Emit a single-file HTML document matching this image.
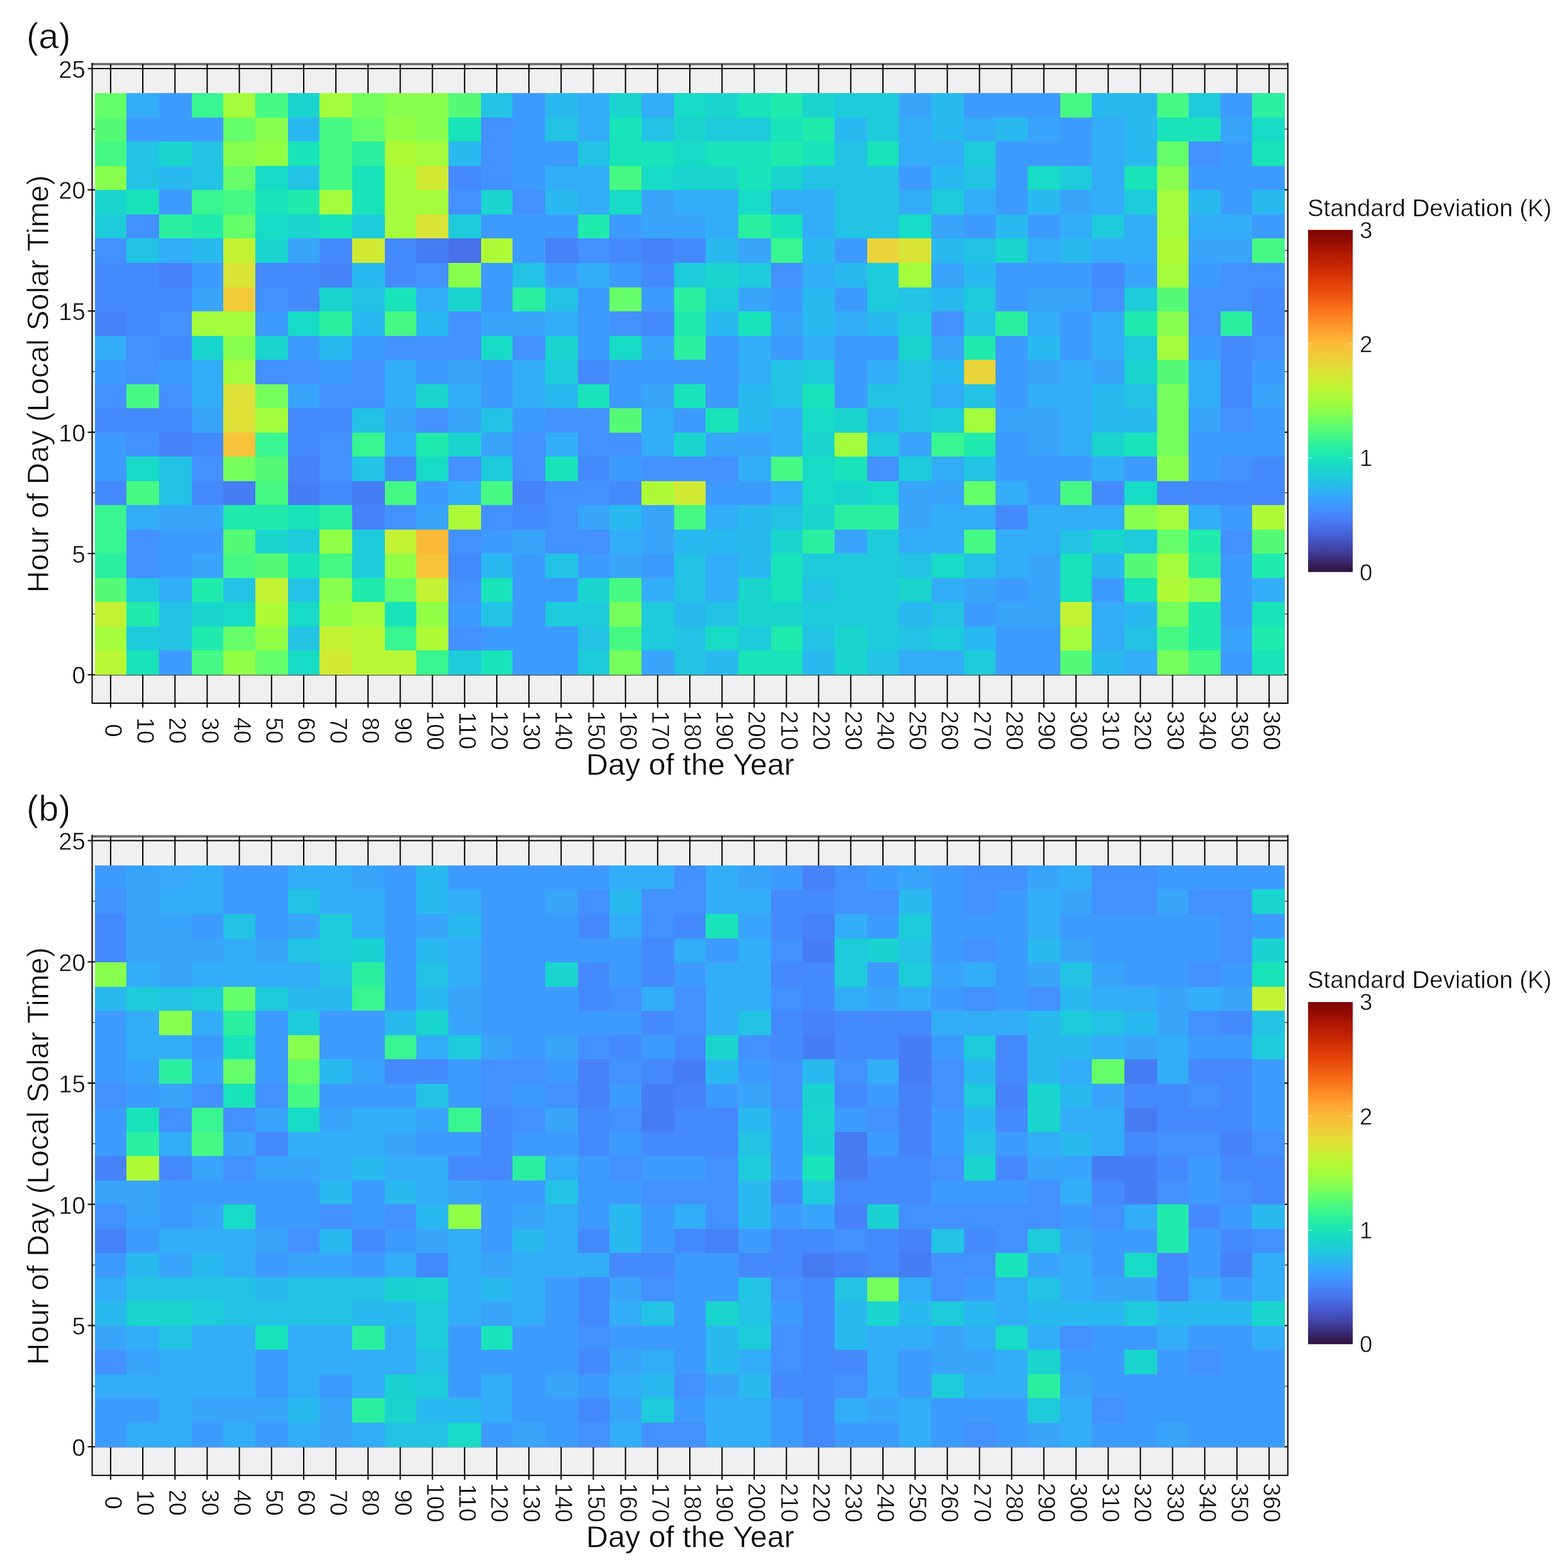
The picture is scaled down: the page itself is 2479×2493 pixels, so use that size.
<!DOCTYPE html>
<html lang="en"><head><meta charset="utf-8"><title>Standard Deviation heatmaps</title>
<style>
html,body{margin:0;padding:0;background:#fff}
svg{display:block;font-family:"Liberation Sans",sans-serif;fill:#000}
.t text{stroke:#fff;stroke-width:.6px}
.g{stroke:#fff;stroke-width:.8px}
.h{stroke:#fff;stroke-width:.5px}
.v{stroke:#fff;stroke-width:.8px}
</style></head><body>
<svg width="2479" height="2493" viewBox="0 0 2479 2493">
<defs><linearGradient id="tb" x1="0" y1="0" x2="0" y2="1"><stop offset="0.00%" stop-color="#7A0403"/><stop offset="3.33%" stop-color="#950D01"/><stop offset="6.67%" stop-color="#AF1801"/><stop offset="10.00%" stop-color="#C32503"/><stop offset="13.33%" stop-color="#D63506"/><stop offset="16.67%" stop-color="#E4450A"/><stop offset="20.00%" stop-color="#F05B12"/><stop offset="23.33%" stop-color="#F8721C"/><stop offset="26.67%" stop-color="#FD8D27"/><stop offset="30.00%" stop-color="#FEA431"/><stop offset="33.33%" stop-color="#FABA39"/><stop offset="36.67%" stop-color="#F1CB3A"/><stop offset="40.00%" stop-color="#E1DD37"/><stop offset="43.33%" stop-color="#D0EA34"/><stop offset="46.67%" stop-color="#B9F635"/><stop offset="50.00%" stop-color="#A4FC3C"/><stop offset="53.33%" stop-color="#88FF4E"/><stop offset="56.67%" stop-color="#65FD69"/><stop offset="60.00%" stop-color="#46F884"/><stop offset="63.33%" stop-color="#2AEFA1"/><stop offset="66.67%" stop-color="#1AE4B6"/><stop offset="70.00%" stop-color="#19D5CD"/><stop offset="73.33%" stop-color="#22C5E2"/><stop offset="76.67%" stop-color="#31AFF5"/><stop offset="80.00%" stop-color="#3E9BFE"/><stop offset="83.33%" stop-color="#4685FA"/><stop offset="86.67%" stop-color="#4771E9"/><stop offset="90.00%" stop-color="#4559CB"/><stop offset="93.33%" stop-color="#4143A7"/><stop offset="96.67%" stop-color="#392A73"/><stop offset="100.00%" stop-color="#30123B"/></linearGradient></defs>
<rect width="2479" height="2493" fill="#fff"/>
<g transform="translate(0,0)">
<rect x="146.5" y="101.9" width="1901.30" height="1016.10" fill="#F0F0F0"/>
<g stroke="#000" stroke-width="2">
<line x1="175.90" y1="101.9" x2="175.90" y2="1125.00"/>
<line x1="227.07" y1="101.9" x2="227.07" y2="1125.00"/>
<line x1="278.24" y1="101.9" x2="278.24" y2="1125.00"/>
<line x1="329.41" y1="101.9" x2="329.41" y2="1125.00"/>
<line x1="380.58" y1="101.9" x2="380.58" y2="1125.00"/>
<line x1="431.75" y1="101.9" x2="431.75" y2="1125.00"/>
<line x1="482.92" y1="101.9" x2="482.92" y2="1125.00"/>
<line x1="534.09" y1="101.9" x2="534.09" y2="1125.00"/>
<line x1="585.26" y1="101.9" x2="585.26" y2="1125.00"/>
<line x1="636.43" y1="101.9" x2="636.43" y2="1125.00"/>
<line x1="687.60" y1="101.9" x2="687.60" y2="1125.00"/>
<line x1="738.77" y1="101.9" x2="738.77" y2="1125.00"/>
<line x1="789.94" y1="101.9" x2="789.94" y2="1125.00"/>
<line x1="841.11" y1="101.9" x2="841.11" y2="1125.00"/>
<line x1="892.28" y1="101.9" x2="892.28" y2="1125.00"/>
<line x1="943.45" y1="101.9" x2="943.45" y2="1125.00"/>
<line x1="994.62" y1="101.9" x2="994.62" y2="1125.00"/>
<line x1="1045.79" y1="101.9" x2="1045.79" y2="1125.00"/>
<line x1="1096.96" y1="101.9" x2="1096.96" y2="1125.00"/>
<line x1="1148.13" y1="101.9" x2="1148.13" y2="1125.00"/>
<line x1="1199.30" y1="101.9" x2="1199.30" y2="1125.00"/>
<line x1="1250.47" y1="101.9" x2="1250.47" y2="1125.00"/>
<line x1="1301.64" y1="101.9" x2="1301.64" y2="1125.00"/>
<line x1="1352.81" y1="101.9" x2="1352.81" y2="1125.00"/>
<line x1="1403.98" y1="101.9" x2="1403.98" y2="1125.00"/>
<line x1="1455.15" y1="101.9" x2="1455.15" y2="1125.00"/>
<line x1="1506.32" y1="101.9" x2="1506.32" y2="1125.00"/>
<line x1="1557.49" y1="101.9" x2="1557.49" y2="1125.00"/>
<line x1="1608.66" y1="101.9" x2="1608.66" y2="1125.00"/>
<line x1="1659.83" y1="101.9" x2="1659.83" y2="1125.00"/>
<line x1="1711.00" y1="101.9" x2="1711.00" y2="1125.00"/>
<line x1="1762.17" y1="101.9" x2="1762.17" y2="1125.00"/>
<line x1="1813.34" y1="101.9" x2="1813.34" y2="1125.00"/>
<line x1="1864.51" y1="101.9" x2="1864.51" y2="1125.00"/>
<line x1="1915.68" y1="101.9" x2="1915.68" y2="1125.00"/>
<line x1="1966.85" y1="101.9" x2="1966.85" y2="1125.00"/>
<line x1="2018.02" y1="101.9" x2="2018.02" y2="1125.00"/>
<line x1="139.50" y1="1072.65" x2="2047.8" y2="1072.65"/>
<line x1="139.50" y1="879.90" x2="2047.8" y2="879.90"/>
<line x1="139.50" y1="687.15" x2="2047.8" y2="687.15"/>
<line x1="139.50" y1="494.40" x2="2047.8" y2="494.40"/>
<line x1="139.50" y1="301.65" x2="2047.8" y2="301.65"/>
<line x1="139.50" y1="108.90" x2="2047.8" y2="108.90"/>
</g>
<g stroke="#000" stroke-width="1">
<line x1="146.5" y1="976.27" x2="2047.8" y2="976.27"/>
<line x1="146.5" y1="783.52" x2="2047.8" y2="783.52"/>
<line x1="146.5" y1="590.77" x2="2047.8" y2="590.77"/>
<line x1="146.5" y1="398.02" x2="2047.8" y2="398.02"/>
<line x1="146.5" y1="205.28" x2="2047.8" y2="205.28"/>
</g>
<g shape-rendering="crispEdges">
<rect x="151.2" y="148.3" width="50.6" height="39.1" fill="#65FD69"/>
<rect x="201.2" y="148.3" width="52.3" height="39.1" fill="#33ADF7"/>
<rect x="252.9" y="148.3" width="52.4" height="39.1" fill="#3E9BFE"/>
<rect x="304.7" y="148.3" width="50.6" height="39.1" fill="#38F491"/>
<rect x="354.7" y="148.3" width="52.3" height="39.1" fill="#A4FC3C"/>
<rect x="406.4" y="148.3" width="52.4" height="39.1" fill="#46F884"/>
<rect x="458.2" y="148.3" width="50.6" height="39.1" fill="#19D5CD"/>
<rect x="508.2" y="148.3" width="52.3" height="39.1" fill="#A4FC3C"/>
<rect x="559.9" y="148.3" width="52.4" height="39.1" fill="#75FE5C"/>
<rect x="611.6" y="148.3" width="50.6" height="39.1" fill="#88FF4E"/>
<rect x="661.6" y="148.3" width="52.3" height="39.1" fill="#88FF4E"/>
<rect x="713.3" y="148.3" width="52.4" height="39.1" fill="#55FA76"/>
<rect x="765.1" y="148.3" width="50.6" height="39.1" fill="#23C3E4"/>
<rect x="815.1" y="148.3" width="52.3" height="39.1" fill="#3E9BFE"/>
<rect x="866.8" y="148.3" width="52.4" height="39.1" fill="#2AB9EE"/>
<rect x="918.6" y="148.3" width="50.6" height="39.1" fill="#33ADF7"/>
<rect x="968.6" y="148.3" width="52.3" height="39.1" fill="#19D5CD"/>
<rect x="1020.3" y="148.3" width="52.4" height="39.1" fill="#33ADF7"/>
<rect x="1072.1" y="148.3" width="50.6" height="39.1" fill="#18DBC5"/>
<rect x="1122.1" y="148.3" width="52.3" height="39.1" fill="#19D5CD"/>
<rect x="1173.8" y="148.3" width="52.4" height="39.1" fill="#19E3B9"/>
<rect x="1225.6" y="148.3" width="50.6" height="39.1" fill="#20EAAC"/>
<rect x="1275.6" y="148.3" width="52.3" height="39.1" fill="#19D5CD"/>
<rect x="1327.3" y="148.3" width="52.4" height="39.1" fill="#1ECBDA"/>
<rect x="1379.0" y="148.3" width="50.6" height="39.1" fill="#1ECBDA"/>
<rect x="1429.0" y="148.3" width="52.3" height="39.1" fill="#38A5FB"/>
<rect x="1480.7" y="148.3" width="52.4" height="39.1" fill="#2AB9EE"/>
<rect x="1532.5" y="148.3" width="50.6" height="39.1" fill="#3E9BFE"/>
<rect x="1582.5" y="148.3" width="52.3" height="39.1" fill="#3E9BFE"/>
<rect x="1634.2" y="148.3" width="52.4" height="39.1" fill="#3E9BFE"/>
<rect x="1686.0" y="148.3" width="50.6" height="39.1" fill="#46F884"/>
<rect x="1736.0" y="148.3" width="52.3" height="39.1" fill="#2AB9EE"/>
<rect x="1787.7" y="148.3" width="52.4" height="39.1" fill="#2AB9EE"/>
<rect x="1839.5" y="148.3" width="50.6" height="39.1" fill="#46F884"/>
<rect x="1889.5" y="148.3" width="52.3" height="39.1" fill="#1ECBDA"/>
<rect x="1941.2" y="148.3" width="50.4" height="39.1" fill="#3E9BFE"/>
<rect x="1991.0" y="148.3" width="52.0" height="39.1" fill="#2AEFA1"/>
<rect x="151.2" y="186.8" width="50.6" height="39.1" fill="#55FA76"/>
<rect x="201.2" y="186.8" width="52.3" height="39.1" fill="#3E9BFE"/>
<rect x="252.9" y="186.8" width="52.4" height="39.1" fill="#3E9BFE"/>
<rect x="304.7" y="186.8" width="50.6" height="39.1" fill="#3E9BFE"/>
<rect x="354.7" y="186.8" width="52.3" height="39.1" fill="#65FD69"/>
<rect x="406.4" y="186.8" width="52.4" height="39.1" fill="#88FF4E"/>
<rect x="458.2" y="186.8" width="50.6" height="39.1" fill="#2AB9EE"/>
<rect x="508.2" y="186.8" width="52.3" height="39.1" fill="#46F884"/>
<rect x="559.9" y="186.8" width="52.4" height="39.1" fill="#65FD69"/>
<rect x="611.6" y="186.8" width="50.6" height="39.1" fill="#92FF47"/>
<rect x="661.6" y="186.8" width="52.3" height="39.1" fill="#88FF4E"/>
<rect x="713.3" y="186.8" width="52.4" height="39.1" fill="#19E3B9"/>
<rect x="765.1" y="186.8" width="50.6" height="39.1" fill="#4391FE"/>
<rect x="815.1" y="186.8" width="52.3" height="39.1" fill="#3E9BFE"/>
<rect x="866.8" y="186.8" width="52.4" height="39.1" fill="#23C3E4"/>
<rect x="918.6" y="186.8" width="50.6" height="39.1" fill="#33ADF7"/>
<rect x="968.6" y="186.8" width="52.3" height="39.1" fill="#19E3B9"/>
<rect x="1020.3" y="186.8" width="52.4" height="39.1" fill="#23C3E4"/>
<rect x="1072.1" y="186.8" width="50.6" height="39.1" fill="#19D5CD"/>
<rect x="1122.1" y="186.8" width="52.3" height="39.1" fill="#1ECBDA"/>
<rect x="1173.8" y="186.8" width="52.4" height="39.1" fill="#1ECBDA"/>
<rect x="1225.6" y="186.8" width="50.6" height="39.1" fill="#19E3B9"/>
<rect x="1275.6" y="186.8" width="52.3" height="39.1" fill="#20EAAC"/>
<rect x="1327.3" y="186.8" width="52.4" height="39.1" fill="#2AB9EE"/>
<rect x="1379.0" y="186.8" width="50.6" height="39.1" fill="#1ECBDA"/>
<rect x="1429.0" y="186.8" width="52.3" height="39.1" fill="#33ADF7"/>
<rect x="1480.7" y="186.8" width="52.4" height="39.1" fill="#2AB9EE"/>
<rect x="1532.5" y="186.8" width="50.6" height="39.1" fill="#33ADF7"/>
<rect x="1582.5" y="186.8" width="52.3" height="39.1" fill="#2AB9EE"/>
<rect x="1634.2" y="186.8" width="52.4" height="39.1" fill="#38A5FB"/>
<rect x="1686.0" y="186.8" width="50.6" height="39.1" fill="#3E9BFE"/>
<rect x="1736.0" y="186.8" width="52.3" height="39.1" fill="#33ADF7"/>
<rect x="1787.7" y="186.8" width="52.4" height="39.1" fill="#2AB9EE"/>
<rect x="1839.5" y="186.8" width="50.6" height="39.1" fill="#19E3B9"/>
<rect x="1889.5" y="186.8" width="52.3" height="39.1" fill="#19E3B9"/>
<rect x="1941.2" y="186.8" width="50.4" height="39.1" fill="#38A5FB"/>
<rect x="1991.0" y="186.8" width="52.0" height="39.1" fill="#18DBC5"/>
<rect x="151.2" y="225.3" width="50.6" height="39.1" fill="#46F884"/>
<rect x="201.2" y="225.3" width="52.3" height="39.1" fill="#23C3E4"/>
<rect x="252.9" y="225.3" width="52.4" height="39.1" fill="#19D5CD"/>
<rect x="304.7" y="225.3" width="50.6" height="39.1" fill="#23C3E4"/>
<rect x="354.7" y="225.3" width="52.3" height="39.1" fill="#88FF4E"/>
<rect x="406.4" y="225.3" width="52.4" height="39.1" fill="#92FF47"/>
<rect x="458.2" y="225.3" width="50.6" height="39.1" fill="#19E3B9"/>
<rect x="508.2" y="225.3" width="52.3" height="39.1" fill="#46F884"/>
<rect x="559.9" y="225.3" width="52.4" height="39.1" fill="#2AEFA1"/>
<rect x="611.6" y="225.3" width="50.6" height="39.1" fill="#AFFA37"/>
<rect x="661.6" y="225.3" width="52.3" height="39.1" fill="#A4FC3C"/>
<rect x="713.3" y="225.3" width="52.4" height="39.1" fill="#2AB9EE"/>
<rect x="765.1" y="225.3" width="50.6" height="39.1" fill="#4391FE"/>
<rect x="815.1" y="225.3" width="52.3" height="39.1" fill="#3E9BFE"/>
<rect x="866.8" y="225.3" width="52.4" height="39.1" fill="#3E9BFE"/>
<rect x="918.6" y="225.3" width="50.6" height="39.1" fill="#23C3E4"/>
<rect x="968.6" y="225.3" width="52.3" height="39.1" fill="#19E3B9"/>
<rect x="1020.3" y="225.3" width="52.4" height="39.1" fill="#19E3B9"/>
<rect x="1072.1" y="225.3" width="50.6" height="39.1" fill="#18DBC5"/>
<rect x="1122.1" y="225.3" width="52.3" height="39.1" fill="#19E3B9"/>
<rect x="1173.8" y="225.3" width="52.4" height="39.1" fill="#19E3B9"/>
<rect x="1225.6" y="225.3" width="50.6" height="39.1" fill="#20EAAC"/>
<rect x="1275.6" y="225.3" width="52.3" height="39.1" fill="#19E3B9"/>
<rect x="1327.3" y="225.3" width="52.4" height="39.1" fill="#23C3E4"/>
<rect x="1379.0" y="225.3" width="50.6" height="39.1" fill="#19E3B9"/>
<rect x="1429.0" y="225.3" width="52.3" height="39.1" fill="#33ADF7"/>
<rect x="1480.7" y="225.3" width="52.4" height="39.1" fill="#33ADF7"/>
<rect x="1532.5" y="225.3" width="50.6" height="39.1" fill="#1ECBDA"/>
<rect x="1582.5" y="225.3" width="52.3" height="39.1" fill="#3E9BFE"/>
<rect x="1634.2" y="225.3" width="52.4" height="39.1" fill="#3E9BFE"/>
<rect x="1686.0" y="225.3" width="50.6" height="39.1" fill="#3E9BFE"/>
<rect x="1736.0" y="225.3" width="52.3" height="39.1" fill="#33ADF7"/>
<rect x="1787.7" y="225.3" width="52.4" height="39.1" fill="#2AB9EE"/>
<rect x="1839.5" y="225.3" width="50.6" height="39.1" fill="#65FD69"/>
<rect x="1889.5" y="225.3" width="52.3" height="39.1" fill="#4391FE"/>
<rect x="1941.2" y="225.3" width="50.4" height="39.1" fill="#3E9BFE"/>
<rect x="1991.0" y="225.3" width="52.0" height="39.1" fill="#19E3B9"/>
<rect x="151.2" y="263.9" width="50.6" height="39.1" fill="#88FF4E"/>
<rect x="201.2" y="263.9" width="52.3" height="39.1" fill="#23C3E4"/>
<rect x="252.9" y="263.9" width="52.4" height="39.1" fill="#2AB9EE"/>
<rect x="304.7" y="263.9" width="50.6" height="39.1" fill="#23C3E4"/>
<rect x="354.7" y="263.9" width="52.3" height="39.1" fill="#65FD69"/>
<rect x="406.4" y="263.9" width="52.4" height="39.1" fill="#18DBC5"/>
<rect x="458.2" y="263.9" width="50.6" height="39.1" fill="#23C3E4"/>
<rect x="508.2" y="263.9" width="52.3" height="39.1" fill="#46F884"/>
<rect x="559.9" y="263.9" width="52.4" height="39.1" fill="#19E3B9"/>
<rect x="611.6" y="263.9" width="50.6" height="39.1" fill="#A4FC3C"/>
<rect x="661.6" y="263.9" width="52.3" height="39.1" fill="#D0EA34"/>
<rect x="713.3" y="263.9" width="52.4" height="39.1" fill="#458AFC"/>
<rect x="765.1" y="263.9" width="50.6" height="39.1" fill="#4391FE"/>
<rect x="815.1" y="263.9" width="52.3" height="39.1" fill="#3E9BFE"/>
<rect x="866.8" y="263.9" width="52.4" height="39.1" fill="#33ADF7"/>
<rect x="918.6" y="263.9" width="50.6" height="39.1" fill="#33ADF7"/>
<rect x="968.6" y="263.9" width="52.3" height="39.1" fill="#46F884"/>
<rect x="1020.3" y="263.9" width="52.4" height="39.1" fill="#18DBC5"/>
<rect x="1072.1" y="263.9" width="50.6" height="39.1" fill="#19D5CD"/>
<rect x="1122.1" y="263.9" width="52.3" height="39.1" fill="#19D5CD"/>
<rect x="1173.8" y="263.9" width="52.4" height="39.1" fill="#19E3B9"/>
<rect x="1225.6" y="263.9" width="50.6" height="39.1" fill="#19D5CD"/>
<rect x="1275.6" y="263.9" width="52.3" height="39.1" fill="#23C3E4"/>
<rect x="1327.3" y="263.9" width="52.4" height="39.1" fill="#23C3E4"/>
<rect x="1379.0" y="263.9" width="50.6" height="39.1" fill="#23C3E4"/>
<rect x="1429.0" y="263.9" width="52.3" height="39.1" fill="#3E9BFE"/>
<rect x="1480.7" y="263.9" width="52.4" height="39.1" fill="#2AB9EE"/>
<rect x="1532.5" y="263.9" width="50.6" height="39.1" fill="#23C3E4"/>
<rect x="1582.5" y="263.9" width="52.3" height="39.1" fill="#3E9BFE"/>
<rect x="1634.2" y="263.9" width="52.4" height="39.1" fill="#18DBC5"/>
<rect x="1686.0" y="263.9" width="50.6" height="39.1" fill="#1ECBDA"/>
<rect x="1736.0" y="263.9" width="52.3" height="39.1" fill="#33ADF7"/>
<rect x="1787.7" y="263.9" width="52.4" height="39.1" fill="#19E3B9"/>
<rect x="1839.5" y="263.9" width="50.6" height="39.1" fill="#88FF4E"/>
<rect x="1889.5" y="263.9" width="52.3" height="39.1" fill="#3E9BFE"/>
<rect x="1941.2" y="263.9" width="50.4" height="39.1" fill="#3E9BFE"/>
<rect x="1991.0" y="263.9" width="52.0" height="39.1" fill="#3E9BFE"/>
<rect x="151.2" y="302.4" width="50.6" height="39.1" fill="#19D5CD"/>
<rect x="201.2" y="302.4" width="52.3" height="39.1" fill="#19E3B9"/>
<rect x="252.9" y="302.4" width="52.4" height="39.1" fill="#3E9BFE"/>
<rect x="304.7" y="302.4" width="50.6" height="39.1" fill="#38F491"/>
<rect x="354.7" y="302.4" width="52.3" height="39.1" fill="#46F884"/>
<rect x="406.4" y="302.4" width="52.4" height="39.1" fill="#19E3B9"/>
<rect x="458.2" y="302.4" width="50.6" height="39.1" fill="#20EAAC"/>
<rect x="508.2" y="302.4" width="52.3" height="39.1" fill="#A4FC3C"/>
<rect x="559.9" y="302.4" width="52.4" height="39.1" fill="#19E3B9"/>
<rect x="611.6" y="302.4" width="50.6" height="39.1" fill="#A4FC3C"/>
<rect x="661.6" y="302.4" width="52.3" height="39.1" fill="#A4FC3C"/>
<rect x="713.3" y="302.4" width="52.4" height="39.1" fill="#4391FE"/>
<rect x="765.1" y="302.4" width="50.6" height="39.1" fill="#19D5CD"/>
<rect x="815.1" y="302.4" width="52.3" height="39.1" fill="#4391FE"/>
<rect x="866.8" y="302.4" width="52.4" height="39.1" fill="#2AB9EE"/>
<rect x="918.6" y="302.4" width="50.6" height="39.1" fill="#33ADF7"/>
<rect x="968.6" y="302.4" width="52.3" height="39.1" fill="#18DBC5"/>
<rect x="1020.3" y="302.4" width="52.4" height="39.1" fill="#38A5FB"/>
<rect x="1072.1" y="302.4" width="50.6" height="39.1" fill="#33ADF7"/>
<rect x="1122.1" y="302.4" width="52.3" height="39.1" fill="#33ADF7"/>
<rect x="1173.8" y="302.4" width="52.4" height="39.1" fill="#18DBC5"/>
<rect x="1225.6" y="302.4" width="50.6" height="39.1" fill="#33ADF7"/>
<rect x="1275.6" y="302.4" width="52.3" height="39.1" fill="#33ADF7"/>
<rect x="1327.3" y="302.4" width="52.4" height="39.1" fill="#23C3E4"/>
<rect x="1379.0" y="302.4" width="50.6" height="39.1" fill="#23C3E4"/>
<rect x="1429.0" y="302.4" width="52.3" height="39.1" fill="#33ADF7"/>
<rect x="1480.7" y="302.4" width="52.4" height="39.1" fill="#1ECBDA"/>
<rect x="1532.5" y="302.4" width="50.6" height="39.1" fill="#33ADF7"/>
<rect x="1582.5" y="302.4" width="52.3" height="39.1" fill="#3E9BFE"/>
<rect x="1634.2" y="302.4" width="52.4" height="39.1" fill="#2AB9EE"/>
<rect x="1686.0" y="302.4" width="50.6" height="39.1" fill="#38A5FB"/>
<rect x="1736.0" y="302.4" width="52.3" height="39.1" fill="#33ADF7"/>
<rect x="1787.7" y="302.4" width="52.4" height="39.1" fill="#1ECBDA"/>
<rect x="1839.5" y="302.4" width="50.6" height="39.1" fill="#A4FC3C"/>
<rect x="1889.5" y="302.4" width="52.3" height="39.1" fill="#2AB9EE"/>
<rect x="1941.2" y="302.4" width="50.4" height="39.1" fill="#3E9BFE"/>
<rect x="1991.0" y="302.4" width="52.0" height="39.1" fill="#2AB9EE"/>
<rect x="151.2" y="340.9" width="50.6" height="39.1" fill="#1ECBDA"/>
<rect x="201.2" y="340.9" width="52.3" height="39.1" fill="#4391FE"/>
<rect x="252.9" y="340.9" width="52.4" height="39.1" fill="#2AEFA1"/>
<rect x="304.7" y="340.9" width="50.6" height="39.1" fill="#20EAAC"/>
<rect x="354.7" y="340.9" width="52.3" height="39.1" fill="#65FD69"/>
<rect x="406.4" y="340.9" width="52.4" height="39.1" fill="#18DBC5"/>
<rect x="458.2" y="340.9" width="50.6" height="39.1" fill="#19D5CD"/>
<rect x="508.2" y="340.9" width="52.3" height="39.1" fill="#19E3B9"/>
<rect x="559.9" y="340.9" width="52.4" height="39.1" fill="#1ECBDA"/>
<rect x="611.6" y="340.9" width="50.6" height="39.1" fill="#A4FC3C"/>
<rect x="661.6" y="340.9" width="52.3" height="39.1" fill="#D9E436"/>
<rect x="713.3" y="340.9" width="52.4" height="39.1" fill="#1ECBDA"/>
<rect x="765.1" y="340.9" width="50.6" height="39.1" fill="#3E9BFE"/>
<rect x="815.1" y="340.9" width="52.3" height="39.1" fill="#3E9BFE"/>
<rect x="866.8" y="340.9" width="52.4" height="39.1" fill="#3E9BFE"/>
<rect x="918.6" y="340.9" width="50.6" height="39.1" fill="#20EAAC"/>
<rect x="968.6" y="340.9" width="52.3" height="39.1" fill="#3E9BFE"/>
<rect x="1020.3" y="340.9" width="52.4" height="39.1" fill="#38A5FB"/>
<rect x="1072.1" y="340.9" width="50.6" height="39.1" fill="#38A5FB"/>
<rect x="1122.1" y="340.9" width="52.3" height="39.1" fill="#33ADF7"/>
<rect x="1173.8" y="340.9" width="52.4" height="39.1" fill="#2AEFA1"/>
<rect x="1225.6" y="340.9" width="50.6" height="39.1" fill="#19E3B9"/>
<rect x="1275.6" y="340.9" width="52.3" height="39.1" fill="#33ADF7"/>
<rect x="1327.3" y="340.9" width="52.4" height="39.1" fill="#23C3E4"/>
<rect x="1379.0" y="340.9" width="50.6" height="39.1" fill="#23C3E4"/>
<rect x="1429.0" y="340.9" width="52.3" height="39.1" fill="#18DBC5"/>
<rect x="1480.7" y="340.9" width="52.4" height="39.1" fill="#38A5FB"/>
<rect x="1532.5" y="340.9" width="50.6" height="39.1" fill="#3E9BFE"/>
<rect x="1582.5" y="340.9" width="52.3" height="39.1" fill="#2AB9EE"/>
<rect x="1634.2" y="340.9" width="52.4" height="39.1" fill="#3E9BFE"/>
<rect x="1686.0" y="340.9" width="50.6" height="39.1" fill="#33ADF7"/>
<rect x="1736.0" y="340.9" width="52.3" height="39.1" fill="#1ECBDA"/>
<rect x="1787.7" y="340.9" width="52.4" height="39.1" fill="#33ADF7"/>
<rect x="1839.5" y="340.9" width="50.6" height="39.1" fill="#A4FC3C"/>
<rect x="1889.5" y="340.9" width="52.3" height="39.1" fill="#33ADF7"/>
<rect x="1941.2" y="340.9" width="50.4" height="39.1" fill="#33ADF7"/>
<rect x="1991.0" y="340.9" width="52.0" height="39.1" fill="#3E9BFE"/>
<rect x="151.2" y="379.4" width="50.6" height="39.1" fill="#4391FE"/>
<rect x="201.2" y="379.4" width="52.3" height="39.1" fill="#23C3E4"/>
<rect x="252.9" y="379.4" width="52.4" height="39.1" fill="#33ADF7"/>
<rect x="304.7" y="379.4" width="50.6" height="39.1" fill="#2AB9EE"/>
<rect x="354.7" y="379.4" width="52.3" height="39.1" fill="#C3F134"/>
<rect x="406.4" y="379.4" width="52.4" height="39.1" fill="#19D5CD"/>
<rect x="458.2" y="379.4" width="50.6" height="39.1" fill="#38A5FB"/>
<rect x="508.2" y="379.4" width="52.3" height="39.1" fill="#458AFC"/>
<rect x="559.9" y="379.4" width="52.4" height="39.1" fill="#D0EA34"/>
<rect x="611.6" y="379.4" width="50.6" height="39.1" fill="#458AFC"/>
<rect x="661.6" y="379.4" width="52.3" height="39.1" fill="#467DF4"/>
<rect x="713.3" y="379.4" width="52.4" height="39.1" fill="#4771E9"/>
<rect x="765.1" y="379.4" width="50.6" height="39.1" fill="#AFFA37"/>
<rect x="815.1" y="379.4" width="52.3" height="39.1" fill="#3E9BFE"/>
<rect x="866.8" y="379.4" width="52.4" height="39.1" fill="#4682F8"/>
<rect x="918.6" y="379.4" width="50.6" height="39.1" fill="#4391FE"/>
<rect x="968.6" y="379.4" width="52.3" height="39.1" fill="#458AFC"/>
<rect x="1020.3" y="379.4" width="52.4" height="39.1" fill="#4682F8"/>
<rect x="1072.1" y="379.4" width="50.6" height="39.1" fill="#458AFC"/>
<rect x="1122.1" y="379.4" width="52.3" height="39.1" fill="#2AB9EE"/>
<rect x="1173.8" y="379.4" width="52.4" height="39.1" fill="#38A5FB"/>
<rect x="1225.6" y="379.4" width="50.6" height="39.1" fill="#38F491"/>
<rect x="1275.6" y="379.4" width="52.3" height="39.1" fill="#2AB9EE"/>
<rect x="1327.3" y="379.4" width="52.4" height="39.1" fill="#3E9BFE"/>
<rect x="1379.0" y="379.4" width="50.6" height="39.1" fill="#E9D539"/>
<rect x="1429.0" y="379.4" width="52.3" height="39.1" fill="#D9E436"/>
<rect x="1480.7" y="379.4" width="52.4" height="39.1" fill="#2AB9EE"/>
<rect x="1532.5" y="379.4" width="50.6" height="39.1" fill="#23C3E4"/>
<rect x="1582.5" y="379.4" width="52.3" height="39.1" fill="#19D5CD"/>
<rect x="1634.2" y="379.4" width="52.4" height="39.1" fill="#33ADF7"/>
<rect x="1686.0" y="379.4" width="50.6" height="39.1" fill="#2AB9EE"/>
<rect x="1736.0" y="379.4" width="52.3" height="39.1" fill="#33ADF7"/>
<rect x="1787.7" y="379.4" width="52.4" height="39.1" fill="#33ADF7"/>
<rect x="1839.5" y="379.4" width="50.6" height="39.1" fill="#AFFA37"/>
<rect x="1889.5" y="379.4" width="52.3" height="39.1" fill="#38A5FB"/>
<rect x="1941.2" y="379.4" width="50.4" height="39.1" fill="#38A5FB"/>
<rect x="1991.0" y="379.4" width="52.0" height="39.1" fill="#46F884"/>
<rect x="151.2" y="417.9" width="50.6" height="39.1" fill="#458AFC"/>
<rect x="201.2" y="417.9" width="52.3" height="39.1" fill="#458AFC"/>
<rect x="252.9" y="417.9" width="52.4" height="39.1" fill="#4682F8"/>
<rect x="304.7" y="417.9" width="50.6" height="39.1" fill="#3E9BFE"/>
<rect x="354.7" y="417.9" width="52.3" height="39.1" fill="#D9E436"/>
<rect x="406.4" y="417.9" width="52.4" height="39.1" fill="#458AFC"/>
<rect x="458.2" y="417.9" width="50.6" height="39.1" fill="#458AFC"/>
<rect x="508.2" y="417.9" width="52.3" height="39.1" fill="#4682F8"/>
<rect x="559.9" y="417.9" width="52.4" height="39.1" fill="#2AB9EE"/>
<rect x="611.6" y="417.9" width="50.6" height="39.1" fill="#458AFC"/>
<rect x="661.6" y="417.9" width="52.3" height="39.1" fill="#4391FE"/>
<rect x="713.3" y="417.9" width="52.4" height="39.1" fill="#88FF4E"/>
<rect x="765.1" y="417.9" width="50.6" height="39.1" fill="#3E9BFE"/>
<rect x="815.1" y="417.9" width="52.3" height="39.1" fill="#23C3E4"/>
<rect x="866.8" y="417.9" width="52.4" height="39.1" fill="#3E9BFE"/>
<rect x="918.6" y="417.9" width="50.6" height="39.1" fill="#33ADF7"/>
<rect x="968.6" y="417.9" width="52.3" height="39.1" fill="#3E9BFE"/>
<rect x="1020.3" y="417.9" width="52.4" height="39.1" fill="#458AFC"/>
<rect x="1072.1" y="417.9" width="50.6" height="39.1" fill="#1ECBDA"/>
<rect x="1122.1" y="417.9" width="52.3" height="39.1" fill="#19D5CD"/>
<rect x="1173.8" y="417.9" width="52.4" height="39.1" fill="#1ECBDA"/>
<rect x="1225.6" y="417.9" width="50.6" height="39.1" fill="#4391FE"/>
<rect x="1275.6" y="417.9" width="52.3" height="39.1" fill="#33ADF7"/>
<rect x="1327.3" y="417.9" width="52.4" height="39.1" fill="#2AB9EE"/>
<rect x="1379.0" y="417.9" width="50.6" height="39.1" fill="#1ECBDA"/>
<rect x="1429.0" y="417.9" width="52.3" height="39.1" fill="#A4FC3C"/>
<rect x="1480.7" y="417.9" width="52.4" height="39.1" fill="#38A5FB"/>
<rect x="1532.5" y="417.9" width="50.6" height="39.1" fill="#2AB9EE"/>
<rect x="1582.5" y="417.9" width="52.3" height="39.1" fill="#3E9BFE"/>
<rect x="1634.2" y="417.9" width="52.4" height="39.1" fill="#3E9BFE"/>
<rect x="1686.0" y="417.9" width="50.6" height="39.1" fill="#3E9BFE"/>
<rect x="1736.0" y="417.9" width="52.3" height="39.1" fill="#458AFC"/>
<rect x="1787.7" y="417.9" width="52.4" height="39.1" fill="#38A5FB"/>
<rect x="1839.5" y="417.9" width="50.6" height="39.1" fill="#A4FC3C"/>
<rect x="1889.5" y="417.9" width="52.3" height="39.1" fill="#3E9BFE"/>
<rect x="1941.2" y="417.9" width="50.4" height="39.1" fill="#4391FE"/>
<rect x="1991.0" y="417.9" width="52.0" height="39.1" fill="#4391FE"/>
<rect x="151.2" y="456.5" width="50.6" height="39.1" fill="#458AFC"/>
<rect x="201.2" y="456.5" width="52.3" height="39.1" fill="#458AFC"/>
<rect x="252.9" y="456.5" width="52.4" height="39.1" fill="#458AFC"/>
<rect x="304.7" y="456.5" width="50.6" height="39.1" fill="#38A5FB"/>
<rect x="354.7" y="456.5" width="52.3" height="39.1" fill="#F1CB3A"/>
<rect x="406.4" y="456.5" width="52.4" height="39.1" fill="#4391FE"/>
<rect x="458.2" y="456.5" width="50.6" height="39.1" fill="#458AFC"/>
<rect x="508.2" y="456.5" width="52.3" height="39.1" fill="#19D5CD"/>
<rect x="559.9" y="456.5" width="52.4" height="39.1" fill="#23C3E4"/>
<rect x="611.6" y="456.5" width="50.6" height="39.1" fill="#19E3B9"/>
<rect x="661.6" y="456.5" width="52.3" height="39.1" fill="#33ADF7"/>
<rect x="713.3" y="456.5" width="52.4" height="39.1" fill="#19D5CD"/>
<rect x="765.1" y="456.5" width="50.6" height="39.1" fill="#3E9BFE"/>
<rect x="815.1" y="456.5" width="52.3" height="39.1" fill="#2AEFA1"/>
<rect x="866.8" y="456.5" width="52.4" height="39.1" fill="#23C3E4"/>
<rect x="918.6" y="456.5" width="50.6" height="39.1" fill="#3E9BFE"/>
<rect x="968.6" y="456.5" width="52.3" height="39.1" fill="#65FD69"/>
<rect x="1020.3" y="456.5" width="52.4" height="39.1" fill="#3E9BFE"/>
<rect x="1072.1" y="456.5" width="50.6" height="39.1" fill="#2AEFA1"/>
<rect x="1122.1" y="456.5" width="52.3" height="39.1" fill="#1ECBDA"/>
<rect x="1173.8" y="456.5" width="52.4" height="39.1" fill="#38A5FB"/>
<rect x="1225.6" y="456.5" width="50.6" height="39.1" fill="#3E9BFE"/>
<rect x="1275.6" y="456.5" width="52.3" height="39.1" fill="#2AB9EE"/>
<rect x="1327.3" y="456.5" width="52.4" height="39.1" fill="#3E9BFE"/>
<rect x="1379.0" y="456.5" width="50.6" height="39.1" fill="#1ECBDA"/>
<rect x="1429.0" y="456.5" width="52.3" height="39.1" fill="#23C3E4"/>
<rect x="1480.7" y="456.5" width="52.4" height="39.1" fill="#2AB9EE"/>
<rect x="1532.5" y="456.5" width="50.6" height="39.1" fill="#1ECBDA"/>
<rect x="1582.5" y="456.5" width="52.3" height="39.1" fill="#3E9BFE"/>
<rect x="1634.2" y="456.5" width="52.4" height="39.1" fill="#38A5FB"/>
<rect x="1686.0" y="456.5" width="50.6" height="39.1" fill="#38A5FB"/>
<rect x="1736.0" y="456.5" width="52.3" height="39.1" fill="#4391FE"/>
<rect x="1787.7" y="456.5" width="52.4" height="39.1" fill="#1ECBDA"/>
<rect x="1839.5" y="456.5" width="50.6" height="39.1" fill="#55FA76"/>
<rect x="1889.5" y="456.5" width="52.3" height="39.1" fill="#4391FE"/>
<rect x="1941.2" y="456.5" width="50.4" height="39.1" fill="#4391FE"/>
<rect x="1991.0" y="456.5" width="52.0" height="39.1" fill="#458AFC"/>
<rect x="151.2" y="495.0" width="50.6" height="39.1" fill="#4682F8"/>
<rect x="201.2" y="495.0" width="52.3" height="39.1" fill="#458AFC"/>
<rect x="252.9" y="495.0" width="52.4" height="39.1" fill="#4391FE"/>
<rect x="304.7" y="495.0" width="50.6" height="39.1" fill="#A4FC3C"/>
<rect x="354.7" y="495.0" width="52.3" height="39.1" fill="#A4FC3C"/>
<rect x="406.4" y="495.0" width="52.4" height="39.1" fill="#3E9BFE"/>
<rect x="458.2" y="495.0" width="50.6" height="39.1" fill="#18DBC5"/>
<rect x="508.2" y="495.0" width="52.3" height="39.1" fill="#2AEFA1"/>
<rect x="559.9" y="495.0" width="52.4" height="39.1" fill="#2AB9EE"/>
<rect x="611.6" y="495.0" width="50.6" height="39.1" fill="#46F884"/>
<rect x="661.6" y="495.0" width="52.3" height="39.1" fill="#2AB9EE"/>
<rect x="713.3" y="495.0" width="52.4" height="39.1" fill="#4391FE"/>
<rect x="765.1" y="495.0" width="50.6" height="39.1" fill="#38A5FB"/>
<rect x="815.1" y="495.0" width="52.3" height="39.1" fill="#38A5FB"/>
<rect x="866.8" y="495.0" width="52.4" height="39.1" fill="#33ADF7"/>
<rect x="918.6" y="495.0" width="50.6" height="39.1" fill="#3E9BFE"/>
<rect x="968.6" y="495.0" width="52.3" height="39.1" fill="#4391FE"/>
<rect x="1020.3" y="495.0" width="52.4" height="39.1" fill="#458AFC"/>
<rect x="1072.1" y="495.0" width="50.6" height="39.1" fill="#20EAAC"/>
<rect x="1122.1" y="495.0" width="52.3" height="39.1" fill="#2AB9EE"/>
<rect x="1173.8" y="495.0" width="52.4" height="39.1" fill="#19E3B9"/>
<rect x="1225.6" y="495.0" width="50.6" height="39.1" fill="#38A5FB"/>
<rect x="1275.6" y="495.0" width="52.3" height="39.1" fill="#2AB9EE"/>
<rect x="1327.3" y="495.0" width="52.4" height="39.1" fill="#33ADF7"/>
<rect x="1379.0" y="495.0" width="50.6" height="39.1" fill="#2AB9EE"/>
<rect x="1429.0" y="495.0" width="52.3" height="39.1" fill="#1ECBDA"/>
<rect x="1480.7" y="495.0" width="52.4" height="39.1" fill="#4391FE"/>
<rect x="1532.5" y="495.0" width="50.6" height="39.1" fill="#23C3E4"/>
<rect x="1582.5" y="495.0" width="52.3" height="39.1" fill="#2AEFA1"/>
<rect x="1634.2" y="495.0" width="52.4" height="39.1" fill="#33ADF7"/>
<rect x="1686.0" y="495.0" width="50.6" height="39.1" fill="#3E9BFE"/>
<rect x="1736.0" y="495.0" width="52.3" height="39.1" fill="#33ADF7"/>
<rect x="1787.7" y="495.0" width="52.4" height="39.1" fill="#20EAAC"/>
<rect x="1839.5" y="495.0" width="50.6" height="39.1" fill="#88FF4E"/>
<rect x="1889.5" y="495.0" width="52.3" height="39.1" fill="#4391FE"/>
<rect x="1941.2" y="495.0" width="50.4" height="39.1" fill="#2AEFA1"/>
<rect x="1991.0" y="495.0" width="52.0" height="39.1" fill="#458AFC"/>
<rect x="151.2" y="533.5" width="50.6" height="39.1" fill="#33ADF7"/>
<rect x="201.2" y="533.5" width="52.3" height="39.1" fill="#4391FE"/>
<rect x="252.9" y="533.5" width="52.4" height="39.1" fill="#458AFC"/>
<rect x="304.7" y="533.5" width="50.6" height="39.1" fill="#19D5CD"/>
<rect x="354.7" y="533.5" width="52.3" height="39.1" fill="#88FF4E"/>
<rect x="406.4" y="533.5" width="52.4" height="39.1" fill="#19D5CD"/>
<rect x="458.2" y="533.5" width="50.6" height="39.1" fill="#3E9BFE"/>
<rect x="508.2" y="533.5" width="52.3" height="39.1" fill="#2AB9EE"/>
<rect x="559.9" y="533.5" width="52.4" height="39.1" fill="#3E9BFE"/>
<rect x="611.6" y="533.5" width="50.6" height="39.1" fill="#4391FE"/>
<rect x="661.6" y="533.5" width="52.3" height="39.1" fill="#4391FE"/>
<rect x="713.3" y="533.5" width="52.4" height="39.1" fill="#4391FE"/>
<rect x="765.1" y="533.5" width="50.6" height="39.1" fill="#18DBC5"/>
<rect x="815.1" y="533.5" width="52.3" height="39.1" fill="#4391FE"/>
<rect x="866.8" y="533.5" width="52.4" height="39.1" fill="#19D5CD"/>
<rect x="918.6" y="533.5" width="50.6" height="39.1" fill="#3E9BFE"/>
<rect x="968.6" y="533.5" width="52.3" height="39.1" fill="#18DBC5"/>
<rect x="1020.3" y="533.5" width="52.4" height="39.1" fill="#38A5FB"/>
<rect x="1072.1" y="533.5" width="50.6" height="39.1" fill="#2AEFA1"/>
<rect x="1122.1" y="533.5" width="52.3" height="39.1" fill="#3E9BFE"/>
<rect x="1173.8" y="533.5" width="52.4" height="39.1" fill="#33ADF7"/>
<rect x="1225.6" y="533.5" width="50.6" height="39.1" fill="#3E9BFE"/>
<rect x="1275.6" y="533.5" width="52.3" height="39.1" fill="#33ADF7"/>
<rect x="1327.3" y="533.5" width="52.4" height="39.1" fill="#3E9BFE"/>
<rect x="1379.0" y="533.5" width="50.6" height="39.1" fill="#3E9BFE"/>
<rect x="1429.0" y="533.5" width="52.3" height="39.1" fill="#19D5CD"/>
<rect x="1480.7" y="533.5" width="52.4" height="39.1" fill="#38A5FB"/>
<rect x="1532.5" y="533.5" width="50.6" height="39.1" fill="#20EAAC"/>
<rect x="1582.5" y="533.5" width="52.3" height="39.1" fill="#3E9BFE"/>
<rect x="1634.2" y="533.5" width="52.4" height="39.1" fill="#2AB9EE"/>
<rect x="1686.0" y="533.5" width="50.6" height="39.1" fill="#3E9BFE"/>
<rect x="1736.0" y="533.5" width="52.3" height="39.1" fill="#33ADF7"/>
<rect x="1787.7" y="533.5" width="52.4" height="39.1" fill="#1ECBDA"/>
<rect x="1839.5" y="533.5" width="50.6" height="39.1" fill="#A4FC3C"/>
<rect x="1889.5" y="533.5" width="52.3" height="39.1" fill="#3E9BFE"/>
<rect x="1941.2" y="533.5" width="50.4" height="39.1" fill="#458AFC"/>
<rect x="1991.0" y="533.5" width="52.0" height="39.1" fill="#4391FE"/>
<rect x="151.2" y="572.0" width="50.6" height="39.1" fill="#3E9BFE"/>
<rect x="201.2" y="572.0" width="52.3" height="39.1" fill="#4391FE"/>
<rect x="252.9" y="572.0" width="52.4" height="39.1" fill="#3E9BFE"/>
<rect x="304.7" y="572.0" width="50.6" height="39.1" fill="#33ADF7"/>
<rect x="354.7" y="572.0" width="52.3" height="39.1" fill="#A4FC3C"/>
<rect x="406.4" y="572.0" width="52.4" height="39.1" fill="#4391FE"/>
<rect x="458.2" y="572.0" width="50.6" height="39.1" fill="#4391FE"/>
<rect x="508.2" y="572.0" width="52.3" height="39.1" fill="#3E9BFE"/>
<rect x="559.9" y="572.0" width="52.4" height="39.1" fill="#4391FE"/>
<rect x="611.6" y="572.0" width="50.6" height="39.1" fill="#33ADF7"/>
<rect x="661.6" y="572.0" width="52.3" height="39.1" fill="#3E9BFE"/>
<rect x="713.3" y="572.0" width="52.4" height="39.1" fill="#38A5FB"/>
<rect x="765.1" y="572.0" width="50.6" height="39.1" fill="#3E9BFE"/>
<rect x="815.1" y="572.0" width="52.3" height="39.1" fill="#33ADF7"/>
<rect x="866.8" y="572.0" width="52.4" height="39.1" fill="#1ECBDA"/>
<rect x="918.6" y="572.0" width="50.6" height="39.1" fill="#458AFC"/>
<rect x="968.6" y="572.0" width="52.3" height="39.1" fill="#3E9BFE"/>
<rect x="1020.3" y="572.0" width="52.4" height="39.1" fill="#3E9BFE"/>
<rect x="1072.1" y="572.0" width="50.6" height="39.1" fill="#3E9BFE"/>
<rect x="1122.1" y="572.0" width="52.3" height="39.1" fill="#3E9BFE"/>
<rect x="1173.8" y="572.0" width="52.4" height="39.1" fill="#33ADF7"/>
<rect x="1225.6" y="572.0" width="50.6" height="39.1" fill="#23C3E4"/>
<rect x="1275.6" y="572.0" width="52.3" height="39.1" fill="#1ECBDA"/>
<rect x="1327.3" y="572.0" width="52.4" height="39.1" fill="#3E9BFE"/>
<rect x="1379.0" y="572.0" width="50.6" height="39.1" fill="#33ADF7"/>
<rect x="1429.0" y="572.0" width="52.3" height="39.1" fill="#23C3E4"/>
<rect x="1480.7" y="572.0" width="52.4" height="39.1" fill="#2AB9EE"/>
<rect x="1532.5" y="572.0" width="50.6" height="39.1" fill="#E9D539"/>
<rect x="1582.5" y="572.0" width="52.3" height="39.1" fill="#3E9BFE"/>
<rect x="1634.2" y="572.0" width="52.4" height="39.1" fill="#38A5FB"/>
<rect x="1686.0" y="572.0" width="50.6" height="39.1" fill="#33ADF7"/>
<rect x="1736.0" y="572.0" width="52.3" height="39.1" fill="#38A5FB"/>
<rect x="1787.7" y="572.0" width="52.4" height="39.1" fill="#19D5CD"/>
<rect x="1839.5" y="572.0" width="50.6" height="39.1" fill="#55FA76"/>
<rect x="1889.5" y="572.0" width="52.3" height="39.1" fill="#33ADF7"/>
<rect x="1941.2" y="572.0" width="50.4" height="39.1" fill="#458AFC"/>
<rect x="1991.0" y="572.0" width="52.0" height="39.1" fill="#3E9BFE"/>
<rect x="151.2" y="610.5" width="50.6" height="39.1" fill="#4391FE"/>
<rect x="201.2" y="610.5" width="52.3" height="39.1" fill="#46F884"/>
<rect x="252.9" y="610.5" width="52.4" height="39.1" fill="#4391FE"/>
<rect x="304.7" y="610.5" width="50.6" height="39.1" fill="#33ADF7"/>
<rect x="354.7" y="610.5" width="52.3" height="39.1" fill="#DDE037"/>
<rect x="406.4" y="610.5" width="52.4" height="39.1" fill="#75FE5C"/>
<rect x="458.2" y="610.5" width="50.6" height="39.1" fill="#38A5FB"/>
<rect x="508.2" y="610.5" width="52.3" height="39.1" fill="#4391FE"/>
<rect x="559.9" y="610.5" width="52.4" height="39.1" fill="#4391FE"/>
<rect x="611.6" y="610.5" width="50.6" height="39.1" fill="#33ADF7"/>
<rect x="661.6" y="610.5" width="52.3" height="39.1" fill="#19D5CD"/>
<rect x="713.3" y="610.5" width="52.4" height="39.1" fill="#33ADF7"/>
<rect x="765.1" y="610.5" width="50.6" height="39.1" fill="#3E9BFE"/>
<rect x="815.1" y="610.5" width="52.3" height="39.1" fill="#33ADF7"/>
<rect x="866.8" y="610.5" width="52.4" height="39.1" fill="#2AB9EE"/>
<rect x="918.6" y="610.5" width="50.6" height="39.1" fill="#19E3B9"/>
<rect x="968.6" y="610.5" width="52.3" height="39.1" fill="#3E9BFE"/>
<rect x="1020.3" y="610.5" width="52.4" height="39.1" fill="#38A5FB"/>
<rect x="1072.1" y="610.5" width="50.6" height="39.1" fill="#19E3B9"/>
<rect x="1122.1" y="610.5" width="52.3" height="39.1" fill="#3E9BFE"/>
<rect x="1173.8" y="610.5" width="52.4" height="39.1" fill="#2AB9EE"/>
<rect x="1225.6" y="610.5" width="50.6" height="39.1" fill="#23C3E4"/>
<rect x="1275.6" y="610.5" width="52.3" height="39.1" fill="#19E3B9"/>
<rect x="1327.3" y="610.5" width="52.4" height="39.1" fill="#3E9BFE"/>
<rect x="1379.0" y="610.5" width="50.6" height="39.1" fill="#23C3E4"/>
<rect x="1429.0" y="610.5" width="52.3" height="39.1" fill="#23C3E4"/>
<rect x="1480.7" y="610.5" width="52.4" height="39.1" fill="#33ADF7"/>
<rect x="1532.5" y="610.5" width="50.6" height="39.1" fill="#23C3E4"/>
<rect x="1582.5" y="610.5" width="52.3" height="39.1" fill="#3E9BFE"/>
<rect x="1634.2" y="610.5" width="52.4" height="39.1" fill="#33ADF7"/>
<rect x="1686.0" y="610.5" width="50.6" height="39.1" fill="#33ADF7"/>
<rect x="1736.0" y="610.5" width="52.3" height="39.1" fill="#2AB9EE"/>
<rect x="1787.7" y="610.5" width="52.4" height="39.1" fill="#23C3E4"/>
<rect x="1839.5" y="610.5" width="50.6" height="39.1" fill="#75FE5C"/>
<rect x="1889.5" y="610.5" width="52.3" height="39.1" fill="#33ADF7"/>
<rect x="1941.2" y="610.5" width="50.4" height="39.1" fill="#458AFC"/>
<rect x="1991.0" y="610.5" width="52.0" height="39.1" fill="#38A5FB"/>
<rect x="151.2" y="649.1" width="50.6" height="39.1" fill="#458AFC"/>
<rect x="201.2" y="649.1" width="52.3" height="39.1" fill="#458AFC"/>
<rect x="252.9" y="649.1" width="52.4" height="39.1" fill="#458AFC"/>
<rect x="304.7" y="649.1" width="50.6" height="39.1" fill="#38A5FB"/>
<rect x="354.7" y="649.1" width="52.3" height="39.1" fill="#DDE037"/>
<rect x="406.4" y="649.1" width="52.4" height="39.1" fill="#A4FC3C"/>
<rect x="458.2" y="649.1" width="50.6" height="39.1" fill="#458AFC"/>
<rect x="508.2" y="649.1" width="52.3" height="39.1" fill="#458AFC"/>
<rect x="559.9" y="649.1" width="52.4" height="39.1" fill="#23C3E4"/>
<rect x="611.6" y="649.1" width="50.6" height="39.1" fill="#38A5FB"/>
<rect x="661.6" y="649.1" width="52.3" height="39.1" fill="#4391FE"/>
<rect x="713.3" y="649.1" width="52.4" height="39.1" fill="#38A5FB"/>
<rect x="765.1" y="649.1" width="50.6" height="39.1" fill="#23C3E4"/>
<rect x="815.1" y="649.1" width="52.3" height="39.1" fill="#3E9BFE"/>
<rect x="866.8" y="649.1" width="52.4" height="39.1" fill="#4391FE"/>
<rect x="918.6" y="649.1" width="50.6" height="39.1" fill="#4391FE"/>
<rect x="968.6" y="649.1" width="52.3" height="39.1" fill="#55FA76"/>
<rect x="1020.3" y="649.1" width="52.4" height="39.1" fill="#33ADF7"/>
<rect x="1072.1" y="649.1" width="50.6" height="39.1" fill="#3E9BFE"/>
<rect x="1122.1" y="649.1" width="52.3" height="39.1" fill="#19E3B9"/>
<rect x="1173.8" y="649.1" width="52.4" height="39.1" fill="#2AB9EE"/>
<rect x="1225.6" y="649.1" width="50.6" height="39.1" fill="#33ADF7"/>
<rect x="1275.6" y="649.1" width="52.3" height="39.1" fill="#18DBC5"/>
<rect x="1327.3" y="649.1" width="52.4" height="39.1" fill="#19D5CD"/>
<rect x="1379.0" y="649.1" width="50.6" height="39.1" fill="#33ADF7"/>
<rect x="1429.0" y="649.1" width="52.3" height="39.1" fill="#23C3E4"/>
<rect x="1480.7" y="649.1" width="52.4" height="39.1" fill="#1ECBDA"/>
<rect x="1532.5" y="649.1" width="50.6" height="39.1" fill="#A4FC3C"/>
<rect x="1582.5" y="649.1" width="52.3" height="39.1" fill="#38A5FB"/>
<rect x="1634.2" y="649.1" width="52.4" height="39.1" fill="#38A5FB"/>
<rect x="1686.0" y="649.1" width="50.6" height="39.1" fill="#33ADF7"/>
<rect x="1736.0" y="649.1" width="52.3" height="39.1" fill="#2AB9EE"/>
<rect x="1787.7" y="649.1" width="52.4" height="39.1" fill="#2AB9EE"/>
<rect x="1839.5" y="649.1" width="50.6" height="39.1" fill="#75FE5C"/>
<rect x="1889.5" y="649.1" width="52.3" height="39.1" fill="#38A5FB"/>
<rect x="1941.2" y="649.1" width="50.4" height="39.1" fill="#4391FE"/>
<rect x="1991.0" y="649.1" width="52.0" height="39.1" fill="#3E9BFE"/>
<rect x="151.2" y="687.6" width="50.6" height="39.1" fill="#3E9BFE"/>
<rect x="201.2" y="687.6" width="52.3" height="39.1" fill="#4391FE"/>
<rect x="252.9" y="687.6" width="52.4" height="39.1" fill="#4682F8"/>
<rect x="304.7" y="687.6" width="50.6" height="39.1" fill="#458AFC"/>
<rect x="354.7" y="687.6" width="52.3" height="39.1" fill="#F6C33A"/>
<rect x="406.4" y="687.6" width="52.4" height="39.1" fill="#38F491"/>
<rect x="458.2" y="687.6" width="50.6" height="39.1" fill="#458AFC"/>
<rect x="508.2" y="687.6" width="52.3" height="39.1" fill="#4391FE"/>
<rect x="559.9" y="687.6" width="52.4" height="39.1" fill="#38F491"/>
<rect x="611.6" y="687.6" width="50.6" height="39.1" fill="#33ADF7"/>
<rect x="661.6" y="687.6" width="52.3" height="39.1" fill="#20EAAC"/>
<rect x="713.3" y="687.6" width="52.4" height="39.1" fill="#19D5CD"/>
<rect x="765.1" y="687.6" width="50.6" height="39.1" fill="#38A5FB"/>
<rect x="815.1" y="687.6" width="52.3" height="39.1" fill="#4391FE"/>
<rect x="866.8" y="687.6" width="52.4" height="39.1" fill="#33ADF7"/>
<rect x="918.6" y="687.6" width="50.6" height="39.1" fill="#4391FE"/>
<rect x="968.6" y="687.6" width="52.3" height="39.1" fill="#4391FE"/>
<rect x="1020.3" y="687.6" width="52.4" height="39.1" fill="#33ADF7"/>
<rect x="1072.1" y="687.6" width="50.6" height="39.1" fill="#19D5CD"/>
<rect x="1122.1" y="687.6" width="52.3" height="39.1" fill="#38A5FB"/>
<rect x="1173.8" y="687.6" width="52.4" height="39.1" fill="#38A5FB"/>
<rect x="1225.6" y="687.6" width="50.6" height="39.1" fill="#33ADF7"/>
<rect x="1275.6" y="687.6" width="52.3" height="39.1" fill="#19D5CD"/>
<rect x="1327.3" y="687.6" width="52.4" height="39.1" fill="#A4FC3C"/>
<rect x="1379.0" y="687.6" width="50.6" height="39.1" fill="#1ECBDA"/>
<rect x="1429.0" y="687.6" width="52.3" height="39.1" fill="#38A5FB"/>
<rect x="1480.7" y="687.6" width="52.4" height="39.1" fill="#38F491"/>
<rect x="1532.5" y="687.6" width="50.6" height="39.1" fill="#20EAAC"/>
<rect x="1582.5" y="687.6" width="52.3" height="39.1" fill="#3E9BFE"/>
<rect x="1634.2" y="687.6" width="52.4" height="39.1" fill="#38A5FB"/>
<rect x="1686.0" y="687.6" width="50.6" height="39.1" fill="#33ADF7"/>
<rect x="1736.0" y="687.6" width="52.3" height="39.1" fill="#19D5CD"/>
<rect x="1787.7" y="687.6" width="52.4" height="39.1" fill="#19E3B9"/>
<rect x="1839.5" y="687.6" width="50.6" height="39.1" fill="#75FE5C"/>
<rect x="1889.5" y="687.6" width="52.3" height="39.1" fill="#3E9BFE"/>
<rect x="1941.2" y="687.6" width="50.4" height="39.1" fill="#3E9BFE"/>
<rect x="1991.0" y="687.6" width="52.0" height="39.1" fill="#3E9BFE"/>
<rect x="151.2" y="726.1" width="50.6" height="39.1" fill="#3E9BFE"/>
<rect x="201.2" y="726.1" width="52.3" height="39.1" fill="#18DBC5"/>
<rect x="252.9" y="726.1" width="52.4" height="39.1" fill="#23C3E4"/>
<rect x="304.7" y="726.1" width="50.6" height="39.1" fill="#4391FE"/>
<rect x="354.7" y="726.1" width="52.3" height="39.1" fill="#75FE5C"/>
<rect x="406.4" y="726.1" width="52.4" height="39.1" fill="#55FA76"/>
<rect x="458.2" y="726.1" width="50.6" height="39.1" fill="#4682F8"/>
<rect x="508.2" y="726.1" width="52.3" height="39.1" fill="#4391FE"/>
<rect x="559.9" y="726.1" width="52.4" height="39.1" fill="#23C3E4"/>
<rect x="611.6" y="726.1" width="50.6" height="39.1" fill="#458AFC"/>
<rect x="661.6" y="726.1" width="52.3" height="39.1" fill="#18DBC5"/>
<rect x="713.3" y="726.1" width="52.4" height="39.1" fill="#4391FE"/>
<rect x="765.1" y="726.1" width="50.6" height="39.1" fill="#1ECBDA"/>
<rect x="815.1" y="726.1" width="52.3" height="39.1" fill="#4391FE"/>
<rect x="866.8" y="726.1" width="52.4" height="39.1" fill="#19E3B9"/>
<rect x="918.6" y="726.1" width="50.6" height="39.1" fill="#458AFC"/>
<rect x="968.6" y="726.1" width="52.3" height="39.1" fill="#3E9BFE"/>
<rect x="1020.3" y="726.1" width="52.4" height="39.1" fill="#4391FE"/>
<rect x="1072.1" y="726.1" width="50.6" height="39.1" fill="#4391FE"/>
<rect x="1122.1" y="726.1" width="52.3" height="39.1" fill="#4391FE"/>
<rect x="1173.8" y="726.1" width="52.4" height="39.1" fill="#33ADF7"/>
<rect x="1225.6" y="726.1" width="50.6" height="39.1" fill="#46F884"/>
<rect x="1275.6" y="726.1" width="52.3" height="39.1" fill="#18DBC5"/>
<rect x="1327.3" y="726.1" width="52.4" height="39.1" fill="#19E3B9"/>
<rect x="1379.0" y="726.1" width="50.6" height="39.1" fill="#4391FE"/>
<rect x="1429.0" y="726.1" width="52.3" height="39.1" fill="#1ECBDA"/>
<rect x="1480.7" y="726.1" width="52.4" height="39.1" fill="#33ADF7"/>
<rect x="1532.5" y="726.1" width="50.6" height="39.1" fill="#23C3E4"/>
<rect x="1582.5" y="726.1" width="52.3" height="39.1" fill="#3E9BFE"/>
<rect x="1634.2" y="726.1" width="52.4" height="39.1" fill="#3E9BFE"/>
<rect x="1686.0" y="726.1" width="50.6" height="39.1" fill="#3E9BFE"/>
<rect x="1736.0" y="726.1" width="52.3" height="39.1" fill="#33ADF7"/>
<rect x="1787.7" y="726.1" width="52.4" height="39.1" fill="#3E9BFE"/>
<rect x="1839.5" y="726.1" width="50.6" height="39.1" fill="#88FF4E"/>
<rect x="1889.5" y="726.1" width="52.3" height="39.1" fill="#3E9BFE"/>
<rect x="1941.2" y="726.1" width="50.4" height="39.1" fill="#4391FE"/>
<rect x="1991.0" y="726.1" width="52.0" height="39.1" fill="#458AFC"/>
<rect x="151.2" y="764.6" width="50.6" height="39.1" fill="#458AFC"/>
<rect x="201.2" y="764.6" width="52.3" height="39.1" fill="#46F884"/>
<rect x="252.9" y="764.6" width="52.4" height="39.1" fill="#23C3E4"/>
<rect x="304.7" y="764.6" width="50.6" height="39.1" fill="#458AFC"/>
<rect x="354.7" y="764.6" width="52.3" height="39.1" fill="#467DF4"/>
<rect x="406.4" y="764.6" width="52.4" height="39.1" fill="#46F884"/>
<rect x="458.2" y="764.6" width="50.6" height="39.1" fill="#467DF4"/>
<rect x="508.2" y="764.6" width="52.3" height="39.1" fill="#458AFC"/>
<rect x="559.9" y="764.6" width="52.4" height="39.1" fill="#467DF4"/>
<rect x="611.6" y="764.6" width="50.6" height="39.1" fill="#46F884"/>
<rect x="661.6" y="764.6" width="52.3" height="39.1" fill="#3E9BFE"/>
<rect x="713.3" y="764.6" width="52.4" height="39.1" fill="#33ADF7"/>
<rect x="765.1" y="764.6" width="50.6" height="39.1" fill="#46F884"/>
<rect x="815.1" y="764.6" width="52.3" height="39.1" fill="#4682F8"/>
<rect x="866.8" y="764.6" width="52.4" height="39.1" fill="#4391FE"/>
<rect x="918.6" y="764.6" width="50.6" height="39.1" fill="#4391FE"/>
<rect x="968.6" y="764.6" width="52.3" height="39.1" fill="#458AFC"/>
<rect x="1020.3" y="764.6" width="52.4" height="39.1" fill="#AFFA37"/>
<rect x="1072.1" y="764.6" width="50.6" height="39.1" fill="#D0EA34"/>
<rect x="1122.1" y="764.6" width="52.3" height="39.1" fill="#3E9BFE"/>
<rect x="1173.8" y="764.6" width="52.4" height="39.1" fill="#3E9BFE"/>
<rect x="1225.6" y="764.6" width="50.6" height="39.1" fill="#33ADF7"/>
<rect x="1275.6" y="764.6" width="52.3" height="39.1" fill="#18DBC5"/>
<rect x="1327.3" y="764.6" width="52.4" height="39.1" fill="#19D5CD"/>
<rect x="1379.0" y="764.6" width="50.6" height="39.1" fill="#18DBC5"/>
<rect x="1429.0" y="764.6" width="52.3" height="39.1" fill="#38A5FB"/>
<rect x="1480.7" y="764.6" width="52.4" height="39.1" fill="#38A5FB"/>
<rect x="1532.5" y="764.6" width="50.6" height="39.1" fill="#65FD69"/>
<rect x="1582.5" y="764.6" width="52.3" height="39.1" fill="#33ADF7"/>
<rect x="1634.2" y="764.6" width="52.4" height="39.1" fill="#3E9BFE"/>
<rect x="1686.0" y="764.6" width="50.6" height="39.1" fill="#46F884"/>
<rect x="1736.0" y="764.6" width="52.3" height="39.1" fill="#458AFC"/>
<rect x="1787.7" y="764.6" width="52.4" height="39.1" fill="#18DBC5"/>
<rect x="1839.5" y="764.6" width="50.6" height="39.1" fill="#458AFC"/>
<rect x="1889.5" y="764.6" width="52.3" height="39.1" fill="#458AFC"/>
<rect x="1941.2" y="764.6" width="50.4" height="39.1" fill="#458AFC"/>
<rect x="1991.0" y="764.6" width="52.0" height="39.1" fill="#458AFC"/>
<rect x="151.2" y="803.2" width="50.6" height="39.1" fill="#38F491"/>
<rect x="201.2" y="803.2" width="52.3" height="39.1" fill="#33ADF7"/>
<rect x="252.9" y="803.2" width="52.4" height="39.1" fill="#38A5FB"/>
<rect x="304.7" y="803.2" width="50.6" height="39.1" fill="#38A5FB"/>
<rect x="354.7" y="803.2" width="52.3" height="39.1" fill="#20EAAC"/>
<rect x="406.4" y="803.2" width="52.4" height="39.1" fill="#20EAAC"/>
<rect x="458.2" y="803.2" width="50.6" height="39.1" fill="#19E3B9"/>
<rect x="508.2" y="803.2" width="52.3" height="39.1" fill="#2AEFA1"/>
<rect x="559.9" y="803.2" width="52.4" height="39.1" fill="#4682F8"/>
<rect x="611.6" y="803.2" width="50.6" height="39.1" fill="#4391FE"/>
<rect x="661.6" y="803.2" width="52.3" height="39.1" fill="#38A5FB"/>
<rect x="713.3" y="803.2" width="52.4" height="39.1" fill="#AFFA37"/>
<rect x="765.1" y="803.2" width="50.6" height="39.1" fill="#4391FE"/>
<rect x="815.1" y="803.2" width="52.3" height="39.1" fill="#458AFC"/>
<rect x="866.8" y="803.2" width="52.4" height="39.1" fill="#4391FE"/>
<rect x="918.6" y="803.2" width="50.6" height="39.1" fill="#38A5FB"/>
<rect x="968.6" y="803.2" width="52.3" height="39.1" fill="#2AB9EE"/>
<rect x="1020.3" y="803.2" width="52.4" height="39.1" fill="#38A5FB"/>
<rect x="1072.1" y="803.2" width="50.6" height="39.1" fill="#46F884"/>
<rect x="1122.1" y="803.2" width="52.3" height="39.1" fill="#33ADF7"/>
<rect x="1173.8" y="803.2" width="52.4" height="39.1" fill="#2AB9EE"/>
<rect x="1225.6" y="803.2" width="50.6" height="39.1" fill="#23C3E4"/>
<rect x="1275.6" y="803.2" width="52.3" height="39.1" fill="#19D5CD"/>
<rect x="1327.3" y="803.2" width="52.4" height="39.1" fill="#2AEFA1"/>
<rect x="1379.0" y="803.2" width="50.6" height="39.1" fill="#2AEFA1"/>
<rect x="1429.0" y="803.2" width="52.3" height="39.1" fill="#38A5FB"/>
<rect x="1480.7" y="803.2" width="52.4" height="39.1" fill="#33ADF7"/>
<rect x="1532.5" y="803.2" width="50.6" height="39.1" fill="#33ADF7"/>
<rect x="1582.5" y="803.2" width="52.3" height="39.1" fill="#458AFC"/>
<rect x="1634.2" y="803.2" width="52.4" height="39.1" fill="#33ADF7"/>
<rect x="1686.0" y="803.2" width="50.6" height="39.1" fill="#33ADF7"/>
<rect x="1736.0" y="803.2" width="52.3" height="39.1" fill="#33ADF7"/>
<rect x="1787.7" y="803.2" width="52.4" height="39.1" fill="#88FF4E"/>
<rect x="1839.5" y="803.2" width="50.6" height="39.1" fill="#A4FC3C"/>
<rect x="1889.5" y="803.2" width="52.3" height="39.1" fill="#33ADF7"/>
<rect x="1941.2" y="803.2" width="50.4" height="39.1" fill="#3E9BFE"/>
<rect x="1991.0" y="803.2" width="52.0" height="39.1" fill="#AFFA37"/>
<rect x="151.2" y="841.7" width="50.6" height="39.1" fill="#38F491"/>
<rect x="201.2" y="841.7" width="52.3" height="39.1" fill="#4391FE"/>
<rect x="252.9" y="841.7" width="52.4" height="39.1" fill="#3E9BFE"/>
<rect x="304.7" y="841.7" width="50.6" height="39.1" fill="#3E9BFE"/>
<rect x="354.7" y="841.7" width="52.3" height="39.1" fill="#55FA76"/>
<rect x="406.4" y="841.7" width="52.4" height="39.1" fill="#19D5CD"/>
<rect x="458.2" y="841.7" width="50.6" height="39.1" fill="#1ECBDA"/>
<rect x="508.2" y="841.7" width="52.3" height="39.1" fill="#92FF47"/>
<rect x="559.9" y="841.7" width="52.4" height="39.1" fill="#1ECBDA"/>
<rect x="611.6" y="841.7" width="50.6" height="39.1" fill="#C3F134"/>
<rect x="661.6" y="841.7" width="52.3" height="39.1" fill="#FABA39"/>
<rect x="713.3" y="841.7" width="52.4" height="39.1" fill="#4391FE"/>
<rect x="765.1" y="841.7" width="50.6" height="39.1" fill="#3E9BFE"/>
<rect x="815.1" y="841.7" width="52.3" height="39.1" fill="#38A5FB"/>
<rect x="866.8" y="841.7" width="52.4" height="39.1" fill="#4391FE"/>
<rect x="918.6" y="841.7" width="50.6" height="39.1" fill="#4391FE"/>
<rect x="968.6" y="841.7" width="52.3" height="39.1" fill="#33ADF7"/>
<rect x="1020.3" y="841.7" width="52.4" height="39.1" fill="#38A5FB"/>
<rect x="1072.1" y="841.7" width="50.6" height="39.1" fill="#2AB9EE"/>
<rect x="1122.1" y="841.7" width="52.3" height="39.1" fill="#2AB9EE"/>
<rect x="1173.8" y="841.7" width="52.4" height="39.1" fill="#2AB9EE"/>
<rect x="1225.6" y="841.7" width="50.6" height="39.1" fill="#19D5CD"/>
<rect x="1275.6" y="841.7" width="52.3" height="39.1" fill="#2AEFA1"/>
<rect x="1327.3" y="841.7" width="52.4" height="39.1" fill="#38A5FB"/>
<rect x="1379.0" y="841.7" width="50.6" height="39.1" fill="#1ECBDA"/>
<rect x="1429.0" y="841.7" width="52.3" height="39.1" fill="#33ADF7"/>
<rect x="1480.7" y="841.7" width="52.4" height="39.1" fill="#33ADF7"/>
<rect x="1532.5" y="841.7" width="50.6" height="39.1" fill="#46F884"/>
<rect x="1582.5" y="841.7" width="52.3" height="39.1" fill="#33ADF7"/>
<rect x="1634.2" y="841.7" width="52.4" height="39.1" fill="#33ADF7"/>
<rect x="1686.0" y="841.7" width="50.6" height="39.1" fill="#23C3E4"/>
<rect x="1736.0" y="841.7" width="52.3" height="39.1" fill="#19D5CD"/>
<rect x="1787.7" y="841.7" width="52.4" height="39.1" fill="#1ECBDA"/>
<rect x="1839.5" y="841.7" width="50.6" height="39.1" fill="#65FD69"/>
<rect x="1889.5" y="841.7" width="52.3" height="39.1" fill="#20EAAC"/>
<rect x="1941.2" y="841.7" width="50.4" height="39.1" fill="#4391FE"/>
<rect x="1991.0" y="841.7" width="52.0" height="39.1" fill="#55FA76"/>
<rect x="151.2" y="880.2" width="50.6" height="39.1" fill="#2AEFA1"/>
<rect x="201.2" y="880.2" width="52.3" height="39.1" fill="#4391FE"/>
<rect x="252.9" y="880.2" width="52.4" height="39.1" fill="#3E9BFE"/>
<rect x="304.7" y="880.2" width="50.6" height="39.1" fill="#38A5FB"/>
<rect x="354.7" y="880.2" width="52.3" height="39.1" fill="#46F884"/>
<rect x="406.4" y="880.2" width="52.4" height="39.1" fill="#55FA76"/>
<rect x="458.2" y="880.2" width="50.6" height="39.1" fill="#19E3B9"/>
<rect x="508.2" y="880.2" width="52.3" height="39.1" fill="#46F884"/>
<rect x="559.9" y="880.2" width="52.4" height="39.1" fill="#1ECBDA"/>
<rect x="611.6" y="880.2" width="50.6" height="39.1" fill="#92FF47"/>
<rect x="661.6" y="880.2" width="52.3" height="39.1" fill="#F6C33A"/>
<rect x="713.3" y="880.2" width="52.4" height="39.1" fill="#458AFC"/>
<rect x="765.1" y="880.2" width="50.6" height="39.1" fill="#2AB9EE"/>
<rect x="815.1" y="880.2" width="52.3" height="39.1" fill="#3E9BFE"/>
<rect x="866.8" y="880.2" width="52.4" height="39.1" fill="#23C3E4"/>
<rect x="918.6" y="880.2" width="50.6" height="39.1" fill="#3E9BFE"/>
<rect x="968.6" y="880.2" width="52.3" height="39.1" fill="#38A5FB"/>
<rect x="1020.3" y="880.2" width="52.4" height="39.1" fill="#3E9BFE"/>
<rect x="1072.1" y="880.2" width="50.6" height="39.1" fill="#23C3E4"/>
<rect x="1122.1" y="880.2" width="52.3" height="39.1" fill="#33ADF7"/>
<rect x="1173.8" y="880.2" width="52.4" height="39.1" fill="#2AB9EE"/>
<rect x="1225.6" y="880.2" width="50.6" height="39.1" fill="#19E3B9"/>
<rect x="1275.6" y="880.2" width="52.3" height="39.1" fill="#1ECBDA"/>
<rect x="1327.3" y="880.2" width="52.4" height="39.1" fill="#1ECBDA"/>
<rect x="1379.0" y="880.2" width="50.6" height="39.1" fill="#1ECBDA"/>
<rect x="1429.0" y="880.2" width="52.3" height="39.1" fill="#23C3E4"/>
<rect x="1480.7" y="880.2" width="52.4" height="39.1" fill="#18DBC5"/>
<rect x="1532.5" y="880.2" width="50.6" height="39.1" fill="#23C3E4"/>
<rect x="1582.5" y="880.2" width="52.3" height="39.1" fill="#33ADF7"/>
<rect x="1634.2" y="880.2" width="52.4" height="39.1" fill="#38A5FB"/>
<rect x="1686.0" y="880.2" width="50.6" height="39.1" fill="#19E3B9"/>
<rect x="1736.0" y="880.2" width="52.3" height="39.1" fill="#2AB9EE"/>
<rect x="1787.7" y="880.2" width="52.4" height="39.1" fill="#55FA76"/>
<rect x="1839.5" y="880.2" width="50.6" height="39.1" fill="#A4FC3C"/>
<rect x="1889.5" y="880.2" width="52.3" height="39.1" fill="#2AEFA1"/>
<rect x="1941.2" y="880.2" width="50.4" height="39.1" fill="#3E9BFE"/>
<rect x="1991.0" y="880.2" width="52.0" height="39.1" fill="#20EAAC"/>
<rect x="151.2" y="918.7" width="50.6" height="39.1" fill="#55FA76"/>
<rect x="201.2" y="918.7" width="52.3" height="39.1" fill="#1ECBDA"/>
<rect x="252.9" y="918.7" width="52.4" height="39.1" fill="#33ADF7"/>
<rect x="304.7" y="918.7" width="50.6" height="39.1" fill="#20EAAC"/>
<rect x="354.7" y="918.7" width="52.3" height="39.1" fill="#23C3E4"/>
<rect x="406.4" y="918.7" width="52.4" height="39.1" fill="#C3F134"/>
<rect x="458.2" y="918.7" width="50.6" height="39.1" fill="#23C3E4"/>
<rect x="508.2" y="918.7" width="52.3" height="39.1" fill="#88FF4E"/>
<rect x="559.9" y="918.7" width="52.4" height="39.1" fill="#20EAAC"/>
<rect x="611.6" y="918.7" width="50.6" height="39.1" fill="#65FD69"/>
<rect x="661.6" y="918.7" width="52.3" height="39.1" fill="#C3F134"/>
<rect x="713.3" y="918.7" width="52.4" height="39.1" fill="#4391FE"/>
<rect x="765.1" y="918.7" width="50.6" height="39.1" fill="#19E3B9"/>
<rect x="815.1" y="918.7" width="52.3" height="39.1" fill="#3E9BFE"/>
<rect x="866.8" y="918.7" width="52.4" height="39.1" fill="#3E9BFE"/>
<rect x="918.6" y="918.7" width="50.6" height="39.1" fill="#19D5CD"/>
<rect x="968.6" y="918.7" width="52.3" height="39.1" fill="#46F884"/>
<rect x="1020.3" y="918.7" width="52.4" height="39.1" fill="#33ADF7"/>
<rect x="1072.1" y="918.7" width="50.6" height="39.1" fill="#23C3E4"/>
<rect x="1122.1" y="918.7" width="52.3" height="39.1" fill="#33ADF7"/>
<rect x="1173.8" y="918.7" width="52.4" height="39.1" fill="#19D5CD"/>
<rect x="1225.6" y="918.7" width="50.6" height="39.1" fill="#19E3B9"/>
<rect x="1275.6" y="918.7" width="52.3" height="39.1" fill="#23C3E4"/>
<rect x="1327.3" y="918.7" width="52.4" height="39.1" fill="#1ECBDA"/>
<rect x="1379.0" y="918.7" width="50.6" height="39.1" fill="#1ECBDA"/>
<rect x="1429.0" y="918.7" width="52.3" height="39.1" fill="#19D5CD"/>
<rect x="1480.7" y="918.7" width="52.4" height="39.1" fill="#33ADF7"/>
<rect x="1532.5" y="918.7" width="50.6" height="39.1" fill="#38A5FB"/>
<rect x="1582.5" y="918.7" width="52.3" height="39.1" fill="#3E9BFE"/>
<rect x="1634.2" y="918.7" width="52.4" height="39.1" fill="#38A5FB"/>
<rect x="1686.0" y="918.7" width="50.6" height="39.1" fill="#19E3B9"/>
<rect x="1736.0" y="918.7" width="52.3" height="39.1" fill="#3E9BFE"/>
<rect x="1787.7" y="918.7" width="52.4" height="39.1" fill="#19E3B9"/>
<rect x="1839.5" y="918.7" width="50.6" height="39.1" fill="#AFFA37"/>
<rect x="1889.5" y="918.7" width="52.3" height="39.1" fill="#88FF4E"/>
<rect x="1941.2" y="918.7" width="50.4" height="39.1" fill="#3E9BFE"/>
<rect x="1991.0" y="918.7" width="52.0" height="39.1" fill="#33ADF7"/>
<rect x="151.2" y="957.2" width="50.6" height="39.1" fill="#C3F134"/>
<rect x="201.2" y="957.2" width="52.3" height="39.1" fill="#20EAAC"/>
<rect x="252.9" y="957.2" width="52.4" height="39.1" fill="#23C3E4"/>
<rect x="304.7" y="957.2" width="50.6" height="39.1" fill="#19D5CD"/>
<rect x="354.7" y="957.2" width="52.3" height="39.1" fill="#18DBC5"/>
<rect x="406.4" y="957.2" width="52.4" height="39.1" fill="#AFFA37"/>
<rect x="458.2" y="957.2" width="50.6" height="39.1" fill="#18DBC5"/>
<rect x="508.2" y="957.2" width="52.3" height="39.1" fill="#92FF47"/>
<rect x="559.9" y="957.2" width="52.4" height="39.1" fill="#A4FC3C"/>
<rect x="611.6" y="957.2" width="50.6" height="39.1" fill="#19E3B9"/>
<rect x="661.6" y="957.2" width="52.3" height="39.1" fill="#92FF47"/>
<rect x="713.3" y="957.2" width="52.4" height="39.1" fill="#3E9BFE"/>
<rect x="765.1" y="957.2" width="50.6" height="39.1" fill="#23C3E4"/>
<rect x="815.1" y="957.2" width="52.3" height="39.1" fill="#3E9BFE"/>
<rect x="866.8" y="957.2" width="52.4" height="39.1" fill="#1ECBDA"/>
<rect x="918.6" y="957.2" width="50.6" height="39.1" fill="#1ECBDA"/>
<rect x="968.6" y="957.2" width="52.3" height="39.1" fill="#75FE5C"/>
<rect x="1020.3" y="957.2" width="52.4" height="39.1" fill="#1ECBDA"/>
<rect x="1072.1" y="957.2" width="50.6" height="39.1" fill="#2AB9EE"/>
<rect x="1122.1" y="957.2" width="52.3" height="39.1" fill="#23C3E4"/>
<rect x="1173.8" y="957.2" width="52.4" height="39.1" fill="#19D5CD"/>
<rect x="1225.6" y="957.2" width="50.6" height="39.1" fill="#19D5CD"/>
<rect x="1275.6" y="957.2" width="52.3" height="39.1" fill="#1ECBDA"/>
<rect x="1327.3" y="957.2" width="52.4" height="39.1" fill="#1ECBDA"/>
<rect x="1379.0" y="957.2" width="50.6" height="39.1" fill="#1ECBDA"/>
<rect x="1429.0" y="957.2" width="52.3" height="39.1" fill="#2AB9EE"/>
<rect x="1480.7" y="957.2" width="52.4" height="39.1" fill="#23C3E4"/>
<rect x="1532.5" y="957.2" width="50.6" height="39.1" fill="#3E9BFE"/>
<rect x="1582.5" y="957.2" width="52.3" height="39.1" fill="#38A5FB"/>
<rect x="1634.2" y="957.2" width="52.4" height="39.1" fill="#38A5FB"/>
<rect x="1686.0" y="957.2" width="50.6" height="39.1" fill="#C3F134"/>
<rect x="1736.0" y="957.2" width="52.3" height="39.1" fill="#33ADF7"/>
<rect x="1787.7" y="957.2" width="52.4" height="39.1" fill="#2AB9EE"/>
<rect x="1839.5" y="957.2" width="50.6" height="39.1" fill="#75FE5C"/>
<rect x="1889.5" y="957.2" width="52.3" height="39.1" fill="#20EAAC"/>
<rect x="1941.2" y="957.2" width="50.4" height="39.1" fill="#3E9BFE"/>
<rect x="1991.0" y="957.2" width="52.0" height="39.1" fill="#19E3B9"/>
<rect x="151.2" y="995.8" width="50.6" height="39.1" fill="#A4FC3C"/>
<rect x="201.2" y="995.8" width="52.3" height="39.1" fill="#1ECBDA"/>
<rect x="252.9" y="995.8" width="52.4" height="39.1" fill="#23C3E4"/>
<rect x="304.7" y="995.8" width="50.6" height="39.1" fill="#20EAAC"/>
<rect x="354.7" y="995.8" width="52.3" height="39.1" fill="#65FD69"/>
<rect x="406.4" y="995.8" width="52.4" height="39.1" fill="#92FF47"/>
<rect x="458.2" y="995.8" width="50.6" height="39.1" fill="#23C3E4"/>
<rect x="508.2" y="995.8" width="52.3" height="39.1" fill="#C3F134"/>
<rect x="559.9" y="995.8" width="52.4" height="39.1" fill="#B9F635"/>
<rect x="611.6" y="995.8" width="50.6" height="39.1" fill="#38F491"/>
<rect x="661.6" y="995.8" width="52.3" height="39.1" fill="#AFFA37"/>
<rect x="713.3" y="995.8" width="52.4" height="39.1" fill="#4391FE"/>
<rect x="765.1" y="995.8" width="50.6" height="39.1" fill="#3E9BFE"/>
<rect x="815.1" y="995.8" width="52.3" height="39.1" fill="#3E9BFE"/>
<rect x="866.8" y="995.8" width="52.4" height="39.1" fill="#3E9BFE"/>
<rect x="918.6" y="995.8" width="50.6" height="39.1" fill="#23C3E4"/>
<rect x="968.6" y="995.8" width="52.3" height="39.1" fill="#46F884"/>
<rect x="1020.3" y="995.8" width="52.4" height="39.1" fill="#1ECBDA"/>
<rect x="1072.1" y="995.8" width="50.6" height="39.1" fill="#23C3E4"/>
<rect x="1122.1" y="995.8" width="52.3" height="39.1" fill="#18DBC5"/>
<rect x="1173.8" y="995.8" width="52.4" height="39.1" fill="#1ECBDA"/>
<rect x="1225.6" y="995.8" width="50.6" height="39.1" fill="#20EAAC"/>
<rect x="1275.6" y="995.8" width="52.3" height="39.1" fill="#23C3E4"/>
<rect x="1327.3" y="995.8" width="52.4" height="39.1" fill="#19D5CD"/>
<rect x="1379.0" y="995.8" width="50.6" height="39.1" fill="#1ECBDA"/>
<rect x="1429.0" y="995.8" width="52.3" height="39.1" fill="#23C3E4"/>
<rect x="1480.7" y="995.8" width="52.4" height="39.1" fill="#1ECBDA"/>
<rect x="1532.5" y="995.8" width="50.6" height="39.1" fill="#2AB9EE"/>
<rect x="1582.5" y="995.8" width="52.3" height="39.1" fill="#3E9BFE"/>
<rect x="1634.2" y="995.8" width="52.4" height="39.1" fill="#3E9BFE"/>
<rect x="1686.0" y="995.8" width="50.6" height="39.1" fill="#A4FC3C"/>
<rect x="1736.0" y="995.8" width="52.3" height="39.1" fill="#33ADF7"/>
<rect x="1787.7" y="995.8" width="52.4" height="39.1" fill="#23C3E4"/>
<rect x="1839.5" y="995.8" width="50.6" height="39.1" fill="#46F884"/>
<rect x="1889.5" y="995.8" width="52.3" height="39.1" fill="#20EAAC"/>
<rect x="1941.2" y="995.8" width="50.4" height="39.1" fill="#38A5FB"/>
<rect x="1991.0" y="995.8" width="52.0" height="39.1" fill="#20EAAC"/>
<rect x="151.2" y="1034.3" width="50.6" height="38.5" fill="#B9F635"/>
<rect x="201.2" y="1034.3" width="52.3" height="38.5" fill="#19E3B9"/>
<rect x="252.9" y="1034.3" width="52.4" height="38.5" fill="#3E9BFE"/>
<rect x="304.7" y="1034.3" width="50.6" height="38.5" fill="#46F884"/>
<rect x="354.7" y="1034.3" width="52.3" height="38.5" fill="#92FF47"/>
<rect x="406.4" y="1034.3" width="52.4" height="38.5" fill="#65FD69"/>
<rect x="458.2" y="1034.3" width="50.6" height="38.5" fill="#18DBC5"/>
<rect x="508.2" y="1034.3" width="52.3" height="38.5" fill="#D0EA34"/>
<rect x="559.9" y="1034.3" width="52.4" height="38.5" fill="#B9F635"/>
<rect x="611.6" y="1034.3" width="50.6" height="38.5" fill="#B9F635"/>
<rect x="661.6" y="1034.3" width="52.3" height="38.5" fill="#38F491"/>
<rect x="713.3" y="1034.3" width="52.4" height="38.5" fill="#1ECBDA"/>
<rect x="765.1" y="1034.3" width="50.6" height="38.5" fill="#19E3B9"/>
<rect x="815.1" y="1034.3" width="52.3" height="38.5" fill="#3E9BFE"/>
<rect x="866.8" y="1034.3" width="52.4" height="38.5" fill="#3E9BFE"/>
<rect x="918.6" y="1034.3" width="50.6" height="38.5" fill="#1ECBDA"/>
<rect x="968.6" y="1034.3" width="52.3" height="38.5" fill="#75FE5C"/>
<rect x="1020.3" y="1034.3" width="52.4" height="38.5" fill="#38A5FB"/>
<rect x="1072.1" y="1034.3" width="50.6" height="38.5" fill="#23C3E4"/>
<rect x="1122.1" y="1034.3" width="52.3" height="38.5" fill="#2AB9EE"/>
<rect x="1173.8" y="1034.3" width="52.4" height="38.5" fill="#19E3B9"/>
<rect x="1225.6" y="1034.3" width="50.6" height="38.5" fill="#19E3B9"/>
<rect x="1275.6" y="1034.3" width="52.3" height="38.5" fill="#2AB9EE"/>
<rect x="1327.3" y="1034.3" width="52.4" height="38.5" fill="#19D5CD"/>
<rect x="1379.0" y="1034.3" width="50.6" height="38.5" fill="#23C3E4"/>
<rect x="1429.0" y="1034.3" width="52.3" height="38.5" fill="#33ADF7"/>
<rect x="1480.7" y="1034.3" width="52.4" height="38.5" fill="#33ADF7"/>
<rect x="1532.5" y="1034.3" width="50.6" height="38.5" fill="#1ECBDA"/>
<rect x="1582.5" y="1034.3" width="52.3" height="38.5" fill="#3E9BFE"/>
<rect x="1634.2" y="1034.3" width="52.4" height="38.5" fill="#3E9BFE"/>
<rect x="1686.0" y="1034.3" width="50.6" height="38.5" fill="#55FA76"/>
<rect x="1736.0" y="1034.3" width="52.3" height="38.5" fill="#2AB9EE"/>
<rect x="1787.7" y="1034.3" width="52.4" height="38.5" fill="#33ADF7"/>
<rect x="1839.5" y="1034.3" width="50.6" height="38.5" fill="#75FE5C"/>
<rect x="1889.5" y="1034.3" width="52.3" height="38.5" fill="#46F884"/>
<rect x="1941.2" y="1034.3" width="50.4" height="38.5" fill="#3E9BFE"/>
<rect x="1991.0" y="1034.3" width="52.0" height="38.5" fill="#19E3B9"/>
</g>
<path d="M146.5 100.9V1118.0H2047.8V100.9" fill="none" stroke="#000" stroke-width="2" stroke-linecap="square"/>
<line x1="145.5" y1="101.9" x2="2048.8" y2="101.9" stroke="#000" stroke-opacity="0.55" stroke-width="3.6"/>
<g font-size="38.4" text-anchor="end" class="t">
<text x="135.9" y="1087.45">0</text>
<text x="135.9" y="894.70">5</text>
<text x="135.9" y="701.95">10</text>
<text x="135.9" y="509.20">15</text>
<text x="135.9" y="316.45">20</text>
<text x="135.9" y="123.70">25</text>
</g>
<g font-size="38.4" text-anchor="middle" class="t">
<text transform="translate(167.00,1161.4) rotate(90) scale(0.978,1)">0</text>
<text transform="translate(218.17,1161.4) rotate(90) scale(0.978,1)">10</text>
<text transform="translate(269.34,1161.4) rotate(90) scale(0.978,1)">20</text>
<text transform="translate(320.51,1161.4) rotate(90) scale(0.978,1)">30</text>
<text transform="translate(371.68,1161.4) rotate(90) scale(0.978,1)">40</text>
<text transform="translate(422.85,1161.4) rotate(90) scale(0.978,1)">50</text>
<text transform="translate(474.02,1161.4) rotate(90) scale(0.978,1)">60</text>
<text transform="translate(525.19,1161.4) rotate(90) scale(0.978,1)">70</text>
<text transform="translate(576.36,1161.4) rotate(90) scale(0.978,1)">80</text>
<text transform="translate(627.53,1161.4) rotate(90) scale(0.978,1)">90</text>
<text transform="translate(678.70,1161.4) rotate(90) scale(0.978,1)">100</text>
<text transform="translate(729.87,1161.4) rotate(90) scale(0.978,1)">110</text>
<text transform="translate(781.04,1161.4) rotate(90) scale(0.978,1)">120</text>
<text transform="translate(832.21,1161.4) rotate(90) scale(0.978,1)">130</text>
<text transform="translate(883.38,1161.4) rotate(90) scale(0.978,1)">140</text>
<text transform="translate(934.55,1161.4) rotate(90) scale(0.978,1)">150</text>
<text transform="translate(985.72,1161.4) rotate(90) scale(0.978,1)">160</text>
<text transform="translate(1036.89,1161.4) rotate(90) scale(0.978,1)">170</text>
<text transform="translate(1088.06,1161.4) rotate(90) scale(0.978,1)">180</text>
<text transform="translate(1139.23,1161.4) rotate(90) scale(0.978,1)">190</text>
<text transform="translate(1190.40,1161.4) rotate(90) scale(0.978,1)">200</text>
<text transform="translate(1241.57,1161.4) rotate(90) scale(0.978,1)">210</text>
<text transform="translate(1292.74,1161.4) rotate(90) scale(0.978,1)">220</text>
<text transform="translate(1343.91,1161.4) rotate(90) scale(0.978,1)">230</text>
<text transform="translate(1395.08,1161.4) rotate(90) scale(0.978,1)">240</text>
<text transform="translate(1446.25,1161.4) rotate(90) scale(0.978,1)">250</text>
<text transform="translate(1497.42,1161.4) rotate(90) scale(0.978,1)">260</text>
<text transform="translate(1548.59,1161.4) rotate(90) scale(0.978,1)">270</text>
<text transform="translate(1599.76,1161.4) rotate(90) scale(0.978,1)">280</text>
<text transform="translate(1650.93,1161.4) rotate(90) scale(0.978,1)">290</text>
<text transform="translate(1702.10,1161.4) rotate(90) scale(0.978,1)">300</text>
<text transform="translate(1753.27,1161.4) rotate(90) scale(0.978,1)">310</text>
<text transform="translate(1804.44,1161.4) rotate(90) scale(0.978,1)">320</text>
<text transform="translate(1855.61,1161.4) rotate(90) scale(0.978,1)">330</text>
<text transform="translate(1906.78,1161.4) rotate(90) scale(0.978,1)">340</text>
<text transform="translate(1957.95,1161.4) rotate(90) scale(0.978,1)">350</text>
<text transform="translate(2009.12,1161.4) rotate(90) scale(0.978,1)">360</text>
</g>
<text font-size="48.4" class="h" text-anchor="middle" x="1097.5" y="1232">Day of the Year</text>
<text font-size="48.4" class="v" text-anchor="middle" transform="translate(76.6,610.4) rotate(-90)">Hour of Day (Local Solar Time)</text>
<text font-size="57.6" class="g" x="42" y="77.2">(a)</text>
<text font-size="38.4" class="h" x="2079" y="343.5">Standard Deviation (K)</text>
<rect x="2080" y="365.5" width="71" height="544" fill="url(#tb)"/>
<g stroke="#fff" stroke-width="2" stroke-opacity="0.4">
<line x1="2080" y1="728.1" x2="2087" y2="728.1"/><line x1="2144" y1="728.1" x2="2151" y2="728.1"/>
<line x1="2080" y1="546.7" x2="2087" y2="546.7"/><line x1="2144" y1="546.7" x2="2151" y2="546.7"/>
</g>
<g font-size="36.5" class="t">
<text x="2162" y="922.7">0</text>
<text x="2162" y="741.3">1</text>
<text x="2162" y="559.9">2</text>
<text x="2162" y="378.5">3</text>
</g>
</g>
<g transform="translate(0,1227.7)">
<rect x="146.5" y="101.9" width="1901.30" height="1016.10" fill="#F0F0F0"/>
<g stroke="#000" stroke-width="2">
<line x1="175.90" y1="101.9" x2="175.90" y2="1125.00"/>
<line x1="227.07" y1="101.9" x2="227.07" y2="1125.00"/>
<line x1="278.24" y1="101.9" x2="278.24" y2="1125.00"/>
<line x1="329.41" y1="101.9" x2="329.41" y2="1125.00"/>
<line x1="380.58" y1="101.9" x2="380.58" y2="1125.00"/>
<line x1="431.75" y1="101.9" x2="431.75" y2="1125.00"/>
<line x1="482.92" y1="101.9" x2="482.92" y2="1125.00"/>
<line x1="534.09" y1="101.9" x2="534.09" y2="1125.00"/>
<line x1="585.26" y1="101.9" x2="585.26" y2="1125.00"/>
<line x1="636.43" y1="101.9" x2="636.43" y2="1125.00"/>
<line x1="687.60" y1="101.9" x2="687.60" y2="1125.00"/>
<line x1="738.77" y1="101.9" x2="738.77" y2="1125.00"/>
<line x1="789.94" y1="101.9" x2="789.94" y2="1125.00"/>
<line x1="841.11" y1="101.9" x2="841.11" y2="1125.00"/>
<line x1="892.28" y1="101.9" x2="892.28" y2="1125.00"/>
<line x1="943.45" y1="101.9" x2="943.45" y2="1125.00"/>
<line x1="994.62" y1="101.9" x2="994.62" y2="1125.00"/>
<line x1="1045.79" y1="101.9" x2="1045.79" y2="1125.00"/>
<line x1="1096.96" y1="101.9" x2="1096.96" y2="1125.00"/>
<line x1="1148.13" y1="101.9" x2="1148.13" y2="1125.00"/>
<line x1="1199.30" y1="101.9" x2="1199.30" y2="1125.00"/>
<line x1="1250.47" y1="101.9" x2="1250.47" y2="1125.00"/>
<line x1="1301.64" y1="101.9" x2="1301.64" y2="1125.00"/>
<line x1="1352.81" y1="101.9" x2="1352.81" y2="1125.00"/>
<line x1="1403.98" y1="101.9" x2="1403.98" y2="1125.00"/>
<line x1="1455.15" y1="101.9" x2="1455.15" y2="1125.00"/>
<line x1="1506.32" y1="101.9" x2="1506.32" y2="1125.00"/>
<line x1="1557.49" y1="101.9" x2="1557.49" y2="1125.00"/>
<line x1="1608.66" y1="101.9" x2="1608.66" y2="1125.00"/>
<line x1="1659.83" y1="101.9" x2="1659.83" y2="1125.00"/>
<line x1="1711.00" y1="101.9" x2="1711.00" y2="1125.00"/>
<line x1="1762.17" y1="101.9" x2="1762.17" y2="1125.00"/>
<line x1="1813.34" y1="101.9" x2="1813.34" y2="1125.00"/>
<line x1="1864.51" y1="101.9" x2="1864.51" y2="1125.00"/>
<line x1="1915.68" y1="101.9" x2="1915.68" y2="1125.00"/>
<line x1="1966.85" y1="101.9" x2="1966.85" y2="1125.00"/>
<line x1="2018.02" y1="101.9" x2="2018.02" y2="1125.00"/>
<line x1="139.50" y1="1072.65" x2="2047.8" y2="1072.65"/>
<line x1="139.50" y1="879.90" x2="2047.8" y2="879.90"/>
<line x1="139.50" y1="687.15" x2="2047.8" y2="687.15"/>
<line x1="139.50" y1="494.40" x2="2047.8" y2="494.40"/>
<line x1="139.50" y1="301.65" x2="2047.8" y2="301.65"/>
<line x1="139.50" y1="108.90" x2="2047.8" y2="108.90"/>
</g>
<g stroke="#000" stroke-width="1">
<line x1="146.5" y1="976.27" x2="2047.8" y2="976.27"/>
<line x1="146.5" y1="783.52" x2="2047.8" y2="783.52"/>
<line x1="146.5" y1="590.77" x2="2047.8" y2="590.77"/>
<line x1="146.5" y1="398.02" x2="2047.8" y2="398.02"/>
<line x1="146.5" y1="205.28" x2="2047.8" y2="205.28"/>
</g>
<g shape-rendering="crispEdges">
<rect x="151.2" y="148.3" width="50.6" height="39.1" fill="#3E9BFE"/>
<rect x="201.2" y="148.3" width="52.3" height="39.1" fill="#38A5FB"/>
<rect x="252.9" y="148.3" width="52.4" height="39.1" fill="#37A8FA"/>
<rect x="304.7" y="148.3" width="50.6" height="39.1" fill="#33ADF7"/>
<rect x="354.7" y="148.3" width="52.3" height="39.1" fill="#3E9BFE"/>
<rect x="406.4" y="148.3" width="52.4" height="39.1" fill="#3E9BFE"/>
<rect x="458.2" y="148.3" width="50.6" height="39.1" fill="#33ADF7"/>
<rect x="508.2" y="148.3" width="52.3" height="39.1" fill="#33ADF7"/>
<rect x="559.9" y="148.3" width="52.4" height="39.1" fill="#38A5FB"/>
<rect x="611.6" y="148.3" width="50.6" height="39.1" fill="#3E9BFE"/>
<rect x="661.6" y="148.3" width="52.3" height="39.1" fill="#2AB9EE"/>
<rect x="713.3" y="148.3" width="52.4" height="39.1" fill="#3E9BFE"/>
<rect x="765.1" y="148.3" width="50.6" height="39.1" fill="#3E9BFE"/>
<rect x="815.1" y="148.3" width="52.3" height="39.1" fill="#3E9BFE"/>
<rect x="866.8" y="148.3" width="52.4" height="39.1" fill="#3E9BFE"/>
<rect x="918.6" y="148.3" width="50.6" height="39.1" fill="#3E9BFE"/>
<rect x="968.6" y="148.3" width="52.3" height="39.1" fill="#33ADF7"/>
<rect x="1020.3" y="148.3" width="52.4" height="39.1" fill="#33ADF7"/>
<rect x="1072.1" y="148.3" width="50.6" height="39.1" fill="#4391FE"/>
<rect x="1122.1" y="148.3" width="52.3" height="39.1" fill="#33ADF7"/>
<rect x="1173.8" y="148.3" width="52.4" height="39.1" fill="#38A5FB"/>
<rect x="1225.6" y="148.3" width="50.6" height="39.1" fill="#3E9BFE"/>
<rect x="1275.6" y="148.3" width="52.3" height="39.1" fill="#4682F8"/>
<rect x="1327.3" y="148.3" width="52.4" height="39.1" fill="#4391FE"/>
<rect x="1379.0" y="148.3" width="50.6" height="39.1" fill="#3E9BFE"/>
<rect x="1429.0" y="148.3" width="52.3" height="39.1" fill="#38A5FB"/>
<rect x="1480.7" y="148.3" width="52.4" height="39.1" fill="#3E9BFE"/>
<rect x="1532.5" y="148.3" width="50.6" height="39.1" fill="#4391FE"/>
<rect x="1582.5" y="148.3" width="52.3" height="39.1" fill="#4391FE"/>
<rect x="1634.2" y="148.3" width="52.4" height="39.1" fill="#38A5FB"/>
<rect x="1686.0" y="148.3" width="50.6" height="39.1" fill="#33ADF7"/>
<rect x="1736.0" y="148.3" width="52.3" height="39.1" fill="#4391FE"/>
<rect x="1787.7" y="148.3" width="52.4" height="39.1" fill="#4391FE"/>
<rect x="1839.5" y="148.3" width="50.6" height="39.1" fill="#3E9BFE"/>
<rect x="1889.5" y="148.3" width="52.3" height="39.1" fill="#3E9BFE"/>
<rect x="1941.2" y="148.3" width="50.4" height="39.1" fill="#3E9BFE"/>
<rect x="1991.0" y="148.3" width="52.0" height="39.1" fill="#3E9BFE"/>
<rect x="151.2" y="186.8" width="50.6" height="39.1" fill="#4294FF"/>
<rect x="201.2" y="186.8" width="52.3" height="39.1" fill="#38A5FB"/>
<rect x="252.9" y="186.8" width="52.4" height="39.1" fill="#33ADF7"/>
<rect x="304.7" y="186.8" width="50.6" height="39.1" fill="#33ADF7"/>
<rect x="354.7" y="186.8" width="52.3" height="39.1" fill="#3E9BFE"/>
<rect x="406.4" y="186.8" width="52.4" height="39.1" fill="#3E9BFE"/>
<rect x="458.2" y="186.8" width="50.6" height="39.1" fill="#23C3E4"/>
<rect x="508.2" y="186.8" width="52.3" height="39.1" fill="#33ADF7"/>
<rect x="559.9" y="186.8" width="52.4" height="39.1" fill="#33ADF7"/>
<rect x="611.6" y="186.8" width="50.6" height="39.1" fill="#3E9BFE"/>
<rect x="661.6" y="186.8" width="52.3" height="39.1" fill="#2AB9EE"/>
<rect x="713.3" y="186.8" width="52.4" height="39.1" fill="#33ADF7"/>
<rect x="765.1" y="186.8" width="50.6" height="39.1" fill="#3E9BFE"/>
<rect x="815.1" y="186.8" width="52.3" height="39.1" fill="#3E9BFE"/>
<rect x="866.8" y="186.8" width="52.4" height="39.1" fill="#38A5FB"/>
<rect x="918.6" y="186.8" width="50.6" height="39.1" fill="#4391FE"/>
<rect x="968.6" y="186.8" width="52.3" height="39.1" fill="#2AB9EE"/>
<rect x="1020.3" y="186.8" width="52.4" height="39.1" fill="#4391FE"/>
<rect x="1072.1" y="186.8" width="50.6" height="39.1" fill="#4391FE"/>
<rect x="1122.1" y="186.8" width="52.3" height="39.1" fill="#33ADF7"/>
<rect x="1173.8" y="186.8" width="52.4" height="39.1" fill="#33ADF7"/>
<rect x="1225.6" y="186.8" width="50.6" height="39.1" fill="#458AFC"/>
<rect x="1275.6" y="186.8" width="52.3" height="39.1" fill="#458AFC"/>
<rect x="1327.3" y="186.8" width="52.4" height="39.1" fill="#4391FE"/>
<rect x="1379.0" y="186.8" width="50.6" height="39.1" fill="#4391FE"/>
<rect x="1429.0" y="186.8" width="52.3" height="39.1" fill="#2AB9EE"/>
<rect x="1480.7" y="186.8" width="52.4" height="39.1" fill="#3E9BFE"/>
<rect x="1532.5" y="186.8" width="50.6" height="39.1" fill="#4391FE"/>
<rect x="1582.5" y="186.8" width="52.3" height="39.1" fill="#3E9BFE"/>
<rect x="1634.2" y="186.8" width="52.4" height="39.1" fill="#33ADF7"/>
<rect x="1686.0" y="186.8" width="50.6" height="39.1" fill="#38A5FB"/>
<rect x="1736.0" y="186.8" width="52.3" height="39.1" fill="#4391FE"/>
<rect x="1787.7" y="186.8" width="52.4" height="39.1" fill="#4391FE"/>
<rect x="1839.5" y="186.8" width="50.6" height="39.1" fill="#38A5FB"/>
<rect x="1889.5" y="186.8" width="52.3" height="39.1" fill="#4391FE"/>
<rect x="1941.2" y="186.8" width="50.4" height="39.1" fill="#4391FE"/>
<rect x="1991.0" y="186.8" width="52.0" height="39.1" fill="#19D5CD"/>
<rect x="151.2" y="225.3" width="50.6" height="39.1" fill="#458AFC"/>
<rect x="201.2" y="225.3" width="52.3" height="39.1" fill="#38A5FB"/>
<rect x="252.9" y="225.3" width="52.4" height="39.1" fill="#38A5FB"/>
<rect x="304.7" y="225.3" width="50.6" height="39.1" fill="#3E9BFE"/>
<rect x="354.7" y="225.3" width="52.3" height="39.1" fill="#23C3E4"/>
<rect x="406.4" y="225.3" width="52.4" height="39.1" fill="#3E9BFE"/>
<rect x="458.2" y="225.3" width="50.6" height="39.1" fill="#38A5FB"/>
<rect x="508.2" y="225.3" width="52.3" height="39.1" fill="#1ECBDA"/>
<rect x="559.9" y="225.3" width="52.4" height="39.1" fill="#33ADF7"/>
<rect x="611.6" y="225.3" width="50.6" height="39.1" fill="#3E9BFE"/>
<rect x="661.6" y="225.3" width="52.3" height="39.1" fill="#38A5FB"/>
<rect x="713.3" y="225.3" width="52.4" height="39.1" fill="#2AB9EE"/>
<rect x="765.1" y="225.3" width="50.6" height="39.1" fill="#3E9BFE"/>
<rect x="815.1" y="225.3" width="52.3" height="39.1" fill="#3E9BFE"/>
<rect x="866.8" y="225.3" width="52.4" height="39.1" fill="#3E9BFE"/>
<rect x="918.6" y="225.3" width="50.6" height="39.1" fill="#458AFC"/>
<rect x="968.6" y="225.3" width="52.3" height="39.1" fill="#33ADF7"/>
<rect x="1020.3" y="225.3" width="52.4" height="39.1" fill="#4391FE"/>
<rect x="1072.1" y="225.3" width="50.6" height="39.1" fill="#458AFC"/>
<rect x="1122.1" y="225.3" width="52.3" height="39.1" fill="#19E3B9"/>
<rect x="1173.8" y="225.3" width="52.4" height="39.1" fill="#38A5FB"/>
<rect x="1225.6" y="225.3" width="50.6" height="39.1" fill="#458AFC"/>
<rect x="1275.6" y="225.3" width="52.3" height="39.1" fill="#4682F8"/>
<rect x="1327.3" y="225.3" width="52.4" height="39.1" fill="#33ADF7"/>
<rect x="1379.0" y="225.3" width="50.6" height="39.1" fill="#3E9BFE"/>
<rect x="1429.0" y="225.3" width="52.3" height="39.1" fill="#1ECBDA"/>
<rect x="1480.7" y="225.3" width="52.4" height="39.1" fill="#3E9BFE"/>
<rect x="1532.5" y="225.3" width="50.6" height="39.1" fill="#3E9BFE"/>
<rect x="1582.5" y="225.3" width="52.3" height="39.1" fill="#3E9BFE"/>
<rect x="1634.2" y="225.3" width="52.4" height="39.1" fill="#33ADF7"/>
<rect x="1686.0" y="225.3" width="50.6" height="39.1" fill="#3E9BFE"/>
<rect x="1736.0" y="225.3" width="52.3" height="39.1" fill="#3E9BFE"/>
<rect x="1787.7" y="225.3" width="52.4" height="39.1" fill="#3E9BFE"/>
<rect x="1839.5" y="225.3" width="50.6" height="39.1" fill="#3E9BFE"/>
<rect x="1889.5" y="225.3" width="52.3" height="39.1" fill="#3E9BFE"/>
<rect x="1941.2" y="225.3" width="50.4" height="39.1" fill="#4391FE"/>
<rect x="1991.0" y="225.3" width="52.0" height="39.1" fill="#3E9BFE"/>
<rect x="151.2" y="263.9" width="50.6" height="39.1" fill="#458AFC"/>
<rect x="201.2" y="263.9" width="52.3" height="39.1" fill="#38A5FB"/>
<rect x="252.9" y="263.9" width="52.4" height="39.1" fill="#38A5FB"/>
<rect x="304.7" y="263.9" width="50.6" height="39.1" fill="#38A5FB"/>
<rect x="354.7" y="263.9" width="52.3" height="39.1" fill="#33ADF7"/>
<rect x="406.4" y="263.9" width="52.4" height="39.1" fill="#38A5FB"/>
<rect x="458.2" y="263.9" width="50.6" height="39.1" fill="#23C3E4"/>
<rect x="508.2" y="263.9" width="52.3" height="39.1" fill="#1ECBDA"/>
<rect x="559.9" y="263.9" width="52.4" height="39.1" fill="#1AD2D2"/>
<rect x="611.6" y="263.9" width="50.6" height="39.1" fill="#3E9BFE"/>
<rect x="661.6" y="263.9" width="52.3" height="39.1" fill="#2AB9EE"/>
<rect x="713.3" y="263.9" width="52.4" height="39.1" fill="#33ADF7"/>
<rect x="765.1" y="263.9" width="50.6" height="39.1" fill="#3E9BFE"/>
<rect x="815.1" y="263.9" width="52.3" height="39.1" fill="#3E9BFE"/>
<rect x="866.8" y="263.9" width="52.4" height="39.1" fill="#3E9BFE"/>
<rect x="918.6" y="263.9" width="50.6" height="39.1" fill="#3E9BFE"/>
<rect x="968.6" y="263.9" width="52.3" height="39.1" fill="#3E9BFE"/>
<rect x="1020.3" y="263.9" width="52.4" height="39.1" fill="#458AFC"/>
<rect x="1072.1" y="263.9" width="50.6" height="39.1" fill="#33ADF7"/>
<rect x="1122.1" y="263.9" width="52.3" height="39.1" fill="#3E9BFE"/>
<rect x="1173.8" y="263.9" width="52.4" height="39.1" fill="#33ADF7"/>
<rect x="1225.6" y="263.9" width="50.6" height="39.1" fill="#4391FE"/>
<rect x="1275.6" y="263.9" width="52.3" height="39.1" fill="#467DF4"/>
<rect x="1327.3" y="263.9" width="52.4" height="39.1" fill="#1ECBDA"/>
<rect x="1379.0" y="263.9" width="50.6" height="39.1" fill="#1AD2D2"/>
<rect x="1429.0" y="263.9" width="52.3" height="39.1" fill="#23C3E4"/>
<rect x="1480.7" y="263.9" width="52.4" height="39.1" fill="#3E9BFE"/>
<rect x="1532.5" y="263.9" width="50.6" height="39.1" fill="#4391FE"/>
<rect x="1582.5" y="263.9" width="52.3" height="39.1" fill="#3E9BFE"/>
<rect x="1634.2" y="263.9" width="52.4" height="39.1" fill="#2AB9EE"/>
<rect x="1686.0" y="263.9" width="50.6" height="39.1" fill="#38A5FB"/>
<rect x="1736.0" y="263.9" width="52.3" height="39.1" fill="#3E9BFE"/>
<rect x="1787.7" y="263.9" width="52.4" height="39.1" fill="#3E9BFE"/>
<rect x="1839.5" y="263.9" width="50.6" height="39.1" fill="#3E9BFE"/>
<rect x="1889.5" y="263.9" width="52.3" height="39.1" fill="#3E9BFE"/>
<rect x="1941.2" y="263.9" width="50.4" height="39.1" fill="#4391FE"/>
<rect x="1991.0" y="263.9" width="52.0" height="39.1" fill="#1AD2D2"/>
<rect x="151.2" y="302.4" width="50.6" height="39.1" fill="#88FF4E"/>
<rect x="201.2" y="302.4" width="52.3" height="39.1" fill="#33ADF7"/>
<rect x="252.9" y="302.4" width="52.4" height="39.1" fill="#38A5FB"/>
<rect x="304.7" y="302.4" width="50.6" height="39.1" fill="#33ADF7"/>
<rect x="354.7" y="302.4" width="52.3" height="39.1" fill="#33ADF7"/>
<rect x="406.4" y="302.4" width="52.4" height="39.1" fill="#33ADF7"/>
<rect x="458.2" y="302.4" width="50.6" height="39.1" fill="#33ADF7"/>
<rect x="508.2" y="302.4" width="52.3" height="39.1" fill="#23C3E4"/>
<rect x="559.9" y="302.4" width="52.4" height="39.1" fill="#2AEFA1"/>
<rect x="611.6" y="302.4" width="50.6" height="39.1" fill="#3E9BFE"/>
<rect x="661.6" y="302.4" width="52.3" height="39.1" fill="#23C3E4"/>
<rect x="713.3" y="302.4" width="52.4" height="39.1" fill="#33ADF7"/>
<rect x="765.1" y="302.4" width="50.6" height="39.1" fill="#3E9BFE"/>
<rect x="815.1" y="302.4" width="52.3" height="39.1" fill="#3E9BFE"/>
<rect x="866.8" y="302.4" width="52.4" height="39.1" fill="#19D5CD"/>
<rect x="918.6" y="302.4" width="50.6" height="39.1" fill="#458AFC"/>
<rect x="968.6" y="302.4" width="52.3" height="39.1" fill="#3E9BFE"/>
<rect x="1020.3" y="302.4" width="52.4" height="39.1" fill="#458AFC"/>
<rect x="1072.1" y="302.4" width="50.6" height="39.1" fill="#3E9BFE"/>
<rect x="1122.1" y="302.4" width="52.3" height="39.1" fill="#33ADF7"/>
<rect x="1173.8" y="302.4" width="52.4" height="39.1" fill="#33ADF7"/>
<rect x="1225.6" y="302.4" width="50.6" height="39.1" fill="#458AFC"/>
<rect x="1275.6" y="302.4" width="52.3" height="39.1" fill="#458AFC"/>
<rect x="1327.3" y="302.4" width="52.4" height="39.1" fill="#1ECBDA"/>
<rect x="1379.0" y="302.4" width="50.6" height="39.1" fill="#3E9BFE"/>
<rect x="1429.0" y="302.4" width="52.3" height="39.1" fill="#1ECBDA"/>
<rect x="1480.7" y="302.4" width="52.4" height="39.1" fill="#38A5FB"/>
<rect x="1532.5" y="302.4" width="50.6" height="39.1" fill="#33ADF7"/>
<rect x="1582.5" y="302.4" width="52.3" height="39.1" fill="#3E9BFE"/>
<rect x="1634.2" y="302.4" width="52.4" height="39.1" fill="#38A5FB"/>
<rect x="1686.0" y="302.4" width="50.6" height="39.1" fill="#23C3E4"/>
<rect x="1736.0" y="302.4" width="52.3" height="39.1" fill="#38A5FB"/>
<rect x="1787.7" y="302.4" width="52.4" height="39.1" fill="#3E9BFE"/>
<rect x="1839.5" y="302.4" width="50.6" height="39.1" fill="#3E9BFE"/>
<rect x="1889.5" y="302.4" width="52.3" height="39.1" fill="#4391FE"/>
<rect x="1941.2" y="302.4" width="50.4" height="39.1" fill="#3E9BFE"/>
<rect x="1991.0" y="302.4" width="52.0" height="39.1" fill="#19E3B9"/>
<rect x="151.2" y="340.9" width="50.6" height="39.1" fill="#2AB9EE"/>
<rect x="201.2" y="340.9" width="52.3" height="39.1" fill="#1ECBDA"/>
<rect x="252.9" y="340.9" width="52.4" height="39.1" fill="#23C3E4"/>
<rect x="304.7" y="340.9" width="50.6" height="39.1" fill="#1ECBDA"/>
<rect x="354.7" y="340.9" width="52.3" height="39.1" fill="#65FD69"/>
<rect x="406.4" y="340.9" width="52.4" height="39.1" fill="#1ECBDA"/>
<rect x="458.2" y="340.9" width="50.6" height="39.1" fill="#2AB9EE"/>
<rect x="508.2" y="340.9" width="52.3" height="39.1" fill="#2AB9EE"/>
<rect x="559.9" y="340.9" width="52.4" height="39.1" fill="#38F491"/>
<rect x="611.6" y="340.9" width="50.6" height="39.1" fill="#3E9BFE"/>
<rect x="661.6" y="340.9" width="52.3" height="39.1" fill="#2AB9EE"/>
<rect x="713.3" y="340.9" width="52.4" height="39.1" fill="#38A5FB"/>
<rect x="765.1" y="340.9" width="50.6" height="39.1" fill="#3E9BFE"/>
<rect x="815.1" y="340.9" width="52.3" height="39.1" fill="#3E9BFE"/>
<rect x="866.8" y="340.9" width="52.4" height="39.1" fill="#3E9BFE"/>
<rect x="918.6" y="340.9" width="50.6" height="39.1" fill="#458AFC"/>
<rect x="968.6" y="340.9" width="52.3" height="39.1" fill="#4391FE"/>
<rect x="1020.3" y="340.9" width="52.4" height="39.1" fill="#33ADF7"/>
<rect x="1072.1" y="340.9" width="50.6" height="39.1" fill="#4391FE"/>
<rect x="1122.1" y="340.9" width="52.3" height="39.1" fill="#33ADF7"/>
<rect x="1173.8" y="340.9" width="52.4" height="39.1" fill="#33ADF7"/>
<rect x="1225.6" y="340.9" width="50.6" height="39.1" fill="#4391FE"/>
<rect x="1275.6" y="340.9" width="52.3" height="39.1" fill="#458AFC"/>
<rect x="1327.3" y="340.9" width="52.4" height="39.1" fill="#33ADF7"/>
<rect x="1379.0" y="340.9" width="50.6" height="39.1" fill="#38A5FB"/>
<rect x="1429.0" y="340.9" width="52.3" height="39.1" fill="#33ADF7"/>
<rect x="1480.7" y="340.9" width="52.4" height="39.1" fill="#3E9BFE"/>
<rect x="1532.5" y="340.9" width="50.6" height="39.1" fill="#4391FE"/>
<rect x="1582.5" y="340.9" width="52.3" height="39.1" fill="#3E9BFE"/>
<rect x="1634.2" y="340.9" width="52.4" height="39.1" fill="#4391FE"/>
<rect x="1686.0" y="340.9" width="50.6" height="39.1" fill="#2AB9EE"/>
<rect x="1736.0" y="340.9" width="52.3" height="39.1" fill="#33ADF7"/>
<rect x="1787.7" y="340.9" width="52.4" height="39.1" fill="#33ADF7"/>
<rect x="1839.5" y="340.9" width="50.6" height="39.1" fill="#38A5FB"/>
<rect x="1889.5" y="340.9" width="52.3" height="39.1" fill="#33ADF7"/>
<rect x="1941.2" y="340.9" width="50.4" height="39.1" fill="#38A5FB"/>
<rect x="1991.0" y="340.9" width="52.0" height="39.1" fill="#C3F134"/>
<rect x="151.2" y="379.4" width="50.6" height="39.1" fill="#3E9BFE"/>
<rect x="201.2" y="379.4" width="52.3" height="39.1" fill="#33ADF7"/>
<rect x="252.9" y="379.4" width="52.4" height="39.1" fill="#88FF4E"/>
<rect x="304.7" y="379.4" width="50.6" height="39.1" fill="#33ADF7"/>
<rect x="354.7" y="379.4" width="52.3" height="39.1" fill="#2AEFA1"/>
<rect x="406.4" y="379.4" width="52.4" height="39.1" fill="#3E9BFE"/>
<rect x="458.2" y="379.4" width="50.6" height="39.1" fill="#1ECBDA"/>
<rect x="508.2" y="379.4" width="52.3" height="39.1" fill="#3E9BFE"/>
<rect x="559.9" y="379.4" width="52.4" height="39.1" fill="#3E9BFE"/>
<rect x="611.6" y="379.4" width="50.6" height="39.1" fill="#2AB9EE"/>
<rect x="661.6" y="379.4" width="52.3" height="39.1" fill="#19D5CD"/>
<rect x="713.3" y="379.4" width="52.4" height="39.1" fill="#38A5FB"/>
<rect x="765.1" y="379.4" width="50.6" height="39.1" fill="#3E9BFE"/>
<rect x="815.1" y="379.4" width="52.3" height="39.1" fill="#3E9BFE"/>
<rect x="866.8" y="379.4" width="52.4" height="39.1" fill="#3E9BFE"/>
<rect x="918.6" y="379.4" width="50.6" height="39.1" fill="#3E9BFE"/>
<rect x="968.6" y="379.4" width="52.3" height="39.1" fill="#3E9BFE"/>
<rect x="1020.3" y="379.4" width="52.4" height="39.1" fill="#458AFC"/>
<rect x="1072.1" y="379.4" width="50.6" height="39.1" fill="#4391FE"/>
<rect x="1122.1" y="379.4" width="52.3" height="39.1" fill="#33ADF7"/>
<rect x="1173.8" y="379.4" width="52.4" height="39.1" fill="#23C3E4"/>
<rect x="1225.6" y="379.4" width="50.6" height="39.1" fill="#458AFC"/>
<rect x="1275.6" y="379.4" width="52.3" height="39.1" fill="#4682F8"/>
<rect x="1327.3" y="379.4" width="52.4" height="39.1" fill="#458AFC"/>
<rect x="1379.0" y="379.4" width="50.6" height="39.1" fill="#458AFC"/>
<rect x="1429.0" y="379.4" width="52.3" height="39.1" fill="#458AFC"/>
<rect x="1480.7" y="379.4" width="52.4" height="39.1" fill="#33ADF7"/>
<rect x="1532.5" y="379.4" width="50.6" height="39.1" fill="#33ADF7"/>
<rect x="1582.5" y="379.4" width="52.3" height="39.1" fill="#33ADF7"/>
<rect x="1634.2" y="379.4" width="52.4" height="39.1" fill="#2AB9EE"/>
<rect x="1686.0" y="379.4" width="50.6" height="39.1" fill="#1ECBDA"/>
<rect x="1736.0" y="379.4" width="52.3" height="39.1" fill="#23C3E4"/>
<rect x="1787.7" y="379.4" width="52.4" height="39.1" fill="#2AB9EE"/>
<rect x="1839.5" y="379.4" width="50.6" height="39.1" fill="#38A5FB"/>
<rect x="1889.5" y="379.4" width="52.3" height="39.1" fill="#4391FE"/>
<rect x="1941.2" y="379.4" width="50.4" height="39.1" fill="#458AFC"/>
<rect x="1991.0" y="379.4" width="52.0" height="39.1" fill="#23C3E4"/>
<rect x="151.2" y="417.9" width="50.6" height="39.1" fill="#3E9BFE"/>
<rect x="201.2" y="417.9" width="52.3" height="39.1" fill="#33ADF7"/>
<rect x="252.9" y="417.9" width="52.4" height="39.1" fill="#33ADF7"/>
<rect x="304.7" y="417.9" width="50.6" height="39.1" fill="#3E9BFE"/>
<rect x="354.7" y="417.9" width="52.3" height="39.1" fill="#19E3B9"/>
<rect x="406.4" y="417.9" width="52.4" height="39.1" fill="#3E9BFE"/>
<rect x="458.2" y="417.9" width="50.6" height="39.1" fill="#88FF4E"/>
<rect x="508.2" y="417.9" width="52.3" height="39.1" fill="#3E9BFE"/>
<rect x="559.9" y="417.9" width="52.4" height="39.1" fill="#3E9BFE"/>
<rect x="611.6" y="417.9" width="50.6" height="39.1" fill="#38F491"/>
<rect x="661.6" y="417.9" width="52.3" height="39.1" fill="#33ADF7"/>
<rect x="713.3" y="417.9" width="52.4" height="39.1" fill="#1ECBDA"/>
<rect x="765.1" y="417.9" width="50.6" height="39.1" fill="#38A5FB"/>
<rect x="815.1" y="417.9" width="52.3" height="39.1" fill="#3E9BFE"/>
<rect x="866.8" y="417.9" width="52.4" height="39.1" fill="#38A5FB"/>
<rect x="918.6" y="417.9" width="50.6" height="39.1" fill="#4391FE"/>
<rect x="968.6" y="417.9" width="52.3" height="39.1" fill="#458AFC"/>
<rect x="1020.3" y="417.9" width="52.4" height="39.1" fill="#3E9BFE"/>
<rect x="1072.1" y="417.9" width="50.6" height="39.1" fill="#458AFC"/>
<rect x="1122.1" y="417.9" width="52.3" height="39.1" fill="#19D5CD"/>
<rect x="1173.8" y="417.9" width="52.4" height="39.1" fill="#4391FE"/>
<rect x="1225.6" y="417.9" width="50.6" height="39.1" fill="#458AFC"/>
<rect x="1275.6" y="417.9" width="52.3" height="39.1" fill="#467DF4"/>
<rect x="1327.3" y="417.9" width="52.4" height="39.1" fill="#458AFC"/>
<rect x="1379.0" y="417.9" width="50.6" height="39.1" fill="#458AFC"/>
<rect x="1429.0" y="417.9" width="52.3" height="39.1" fill="#467DF4"/>
<rect x="1480.7" y="417.9" width="52.4" height="39.1" fill="#3E9BFE"/>
<rect x="1532.5" y="417.9" width="50.6" height="39.1" fill="#1ECBDA"/>
<rect x="1582.5" y="417.9" width="52.3" height="39.1" fill="#458AFC"/>
<rect x="1634.2" y="417.9" width="52.4" height="39.1" fill="#2AB9EE"/>
<rect x="1686.0" y="417.9" width="50.6" height="39.1" fill="#2AB9EE"/>
<rect x="1736.0" y="417.9" width="52.3" height="39.1" fill="#33ADF7"/>
<rect x="1787.7" y="417.9" width="52.4" height="39.1" fill="#38A5FB"/>
<rect x="1839.5" y="417.9" width="50.6" height="39.1" fill="#33ADF7"/>
<rect x="1889.5" y="417.9" width="52.3" height="39.1" fill="#3E9BFE"/>
<rect x="1941.2" y="417.9" width="50.4" height="39.1" fill="#3E9BFE"/>
<rect x="1991.0" y="417.9" width="52.0" height="39.1" fill="#1ECBDA"/>
<rect x="151.2" y="456.5" width="50.6" height="39.1" fill="#3E9BFE"/>
<rect x="201.2" y="456.5" width="52.3" height="39.1" fill="#38A5FB"/>
<rect x="252.9" y="456.5" width="52.4" height="39.1" fill="#2AEFA1"/>
<rect x="304.7" y="456.5" width="50.6" height="39.1" fill="#38A5FB"/>
<rect x="354.7" y="456.5" width="52.3" height="39.1" fill="#65FD69"/>
<rect x="406.4" y="456.5" width="52.4" height="39.1" fill="#3E9BFE"/>
<rect x="458.2" y="456.5" width="50.6" height="39.1" fill="#65FD69"/>
<rect x="508.2" y="456.5" width="52.3" height="39.1" fill="#2AB9EE"/>
<rect x="559.9" y="456.5" width="52.4" height="39.1" fill="#38A5FB"/>
<rect x="611.6" y="456.5" width="50.6" height="39.1" fill="#458AFC"/>
<rect x="661.6" y="456.5" width="52.3" height="39.1" fill="#458AFC"/>
<rect x="713.3" y="456.5" width="52.4" height="39.1" fill="#3E9BFE"/>
<rect x="765.1" y="456.5" width="50.6" height="39.1" fill="#4391FE"/>
<rect x="815.1" y="456.5" width="52.3" height="39.1" fill="#4391FE"/>
<rect x="866.8" y="456.5" width="52.4" height="39.1" fill="#3E9BFE"/>
<rect x="918.6" y="456.5" width="50.6" height="39.1" fill="#4682F8"/>
<rect x="968.6" y="456.5" width="52.3" height="39.1" fill="#4391FE"/>
<rect x="1020.3" y="456.5" width="52.4" height="39.1" fill="#458AFC"/>
<rect x="1072.1" y="456.5" width="50.6" height="39.1" fill="#467DF4"/>
<rect x="1122.1" y="456.5" width="52.3" height="39.1" fill="#2AB9EE"/>
<rect x="1173.8" y="456.5" width="52.4" height="39.1" fill="#3E9BFE"/>
<rect x="1225.6" y="456.5" width="50.6" height="39.1" fill="#4391FE"/>
<rect x="1275.6" y="456.5" width="52.3" height="39.1" fill="#2AB9EE"/>
<rect x="1327.3" y="456.5" width="52.4" height="39.1" fill="#4391FE"/>
<rect x="1379.0" y="456.5" width="50.6" height="39.1" fill="#33ADF7"/>
<rect x="1429.0" y="456.5" width="52.3" height="39.1" fill="#467DF4"/>
<rect x="1480.7" y="456.5" width="52.4" height="39.1" fill="#4391FE"/>
<rect x="1532.5" y="456.5" width="50.6" height="39.1" fill="#2AB9EE"/>
<rect x="1582.5" y="456.5" width="52.3" height="39.1" fill="#458AFC"/>
<rect x="1634.2" y="456.5" width="52.4" height="39.1" fill="#2AB9EE"/>
<rect x="1686.0" y="456.5" width="50.6" height="39.1" fill="#33ADF7"/>
<rect x="1736.0" y="456.5" width="52.3" height="39.1" fill="#65FD69"/>
<rect x="1787.7" y="456.5" width="52.4" height="39.1" fill="#467DF4"/>
<rect x="1839.5" y="456.5" width="50.6" height="39.1" fill="#33ADF7"/>
<rect x="1889.5" y="456.5" width="52.3" height="39.1" fill="#458AFC"/>
<rect x="1941.2" y="456.5" width="50.4" height="39.1" fill="#458AFC"/>
<rect x="1991.0" y="456.5" width="52.0" height="39.1" fill="#3E9BFE"/>
<rect x="151.2" y="495.0" width="50.6" height="39.1" fill="#4391FE"/>
<rect x="201.2" y="495.0" width="52.3" height="39.1" fill="#3E9BFE"/>
<rect x="252.9" y="495.0" width="52.4" height="39.1" fill="#38A5FB"/>
<rect x="304.7" y="495.0" width="50.6" height="39.1" fill="#4391FE"/>
<rect x="354.7" y="495.0" width="52.3" height="39.1" fill="#19E3B9"/>
<rect x="406.4" y="495.0" width="52.4" height="39.1" fill="#4391FE"/>
<rect x="458.2" y="495.0" width="50.6" height="39.1" fill="#46F884"/>
<rect x="508.2" y="495.0" width="52.3" height="39.1" fill="#3E9BFE"/>
<rect x="559.9" y="495.0" width="52.4" height="39.1" fill="#3E9BFE"/>
<rect x="611.6" y="495.0" width="50.6" height="39.1" fill="#3E9BFE"/>
<rect x="661.6" y="495.0" width="52.3" height="39.1" fill="#23C3E4"/>
<rect x="713.3" y="495.0" width="52.4" height="39.1" fill="#3E9BFE"/>
<rect x="765.1" y="495.0" width="50.6" height="39.1" fill="#4391FE"/>
<rect x="815.1" y="495.0" width="52.3" height="39.1" fill="#3E9BFE"/>
<rect x="866.8" y="495.0" width="52.4" height="39.1" fill="#4391FE"/>
<rect x="918.6" y="495.0" width="50.6" height="39.1" fill="#4682F8"/>
<rect x="968.6" y="495.0" width="52.3" height="39.1" fill="#3E9BFE"/>
<rect x="1020.3" y="495.0" width="52.4" height="39.1" fill="#467DF4"/>
<rect x="1072.1" y="495.0" width="50.6" height="39.1" fill="#4682F8"/>
<rect x="1122.1" y="495.0" width="52.3" height="39.1" fill="#3E9BFE"/>
<rect x="1173.8" y="495.0" width="52.4" height="39.1" fill="#38A5FB"/>
<rect x="1225.6" y="495.0" width="50.6" height="39.1" fill="#4391FE"/>
<rect x="1275.6" y="495.0" width="52.3" height="39.1" fill="#1AD2D2"/>
<rect x="1327.3" y="495.0" width="52.4" height="39.1" fill="#458AFC"/>
<rect x="1379.0" y="495.0" width="50.6" height="39.1" fill="#3E9BFE"/>
<rect x="1429.0" y="495.0" width="52.3" height="39.1" fill="#4682F8"/>
<rect x="1480.7" y="495.0" width="52.4" height="39.1" fill="#4391FE"/>
<rect x="1532.5" y="495.0" width="50.6" height="39.1" fill="#1ECBDA"/>
<rect x="1582.5" y="495.0" width="52.3" height="39.1" fill="#4682F8"/>
<rect x="1634.2" y="495.0" width="52.4" height="39.1" fill="#19D5CD"/>
<rect x="1686.0" y="495.0" width="50.6" height="39.1" fill="#2AB9EE"/>
<rect x="1736.0" y="495.0" width="52.3" height="39.1" fill="#38A5FB"/>
<rect x="1787.7" y="495.0" width="52.4" height="39.1" fill="#458AFC"/>
<rect x="1839.5" y="495.0" width="50.6" height="39.1" fill="#458AFC"/>
<rect x="1889.5" y="495.0" width="52.3" height="39.1" fill="#4391FE"/>
<rect x="1941.2" y="495.0" width="50.4" height="39.1" fill="#458AFC"/>
<rect x="1991.0" y="495.0" width="52.0" height="39.1" fill="#3E9BFE"/>
<rect x="151.2" y="533.5" width="50.6" height="39.1" fill="#3E9BFE"/>
<rect x="201.2" y="533.5" width="52.3" height="39.1" fill="#19E3B9"/>
<rect x="252.9" y="533.5" width="52.4" height="39.1" fill="#4391FE"/>
<rect x="304.7" y="533.5" width="50.6" height="39.1" fill="#38F491"/>
<rect x="354.7" y="533.5" width="52.3" height="39.1" fill="#4391FE"/>
<rect x="406.4" y="533.5" width="52.4" height="39.1" fill="#38A5FB"/>
<rect x="458.2" y="533.5" width="50.6" height="39.1" fill="#18DBC5"/>
<rect x="508.2" y="533.5" width="52.3" height="39.1" fill="#38A5FB"/>
<rect x="559.9" y="533.5" width="52.4" height="39.1" fill="#33ADF7"/>
<rect x="611.6" y="533.5" width="50.6" height="39.1" fill="#33ADF7"/>
<rect x="661.6" y="533.5" width="52.3" height="39.1" fill="#38A5FB"/>
<rect x="713.3" y="533.5" width="52.4" height="39.1" fill="#38F491"/>
<rect x="765.1" y="533.5" width="50.6" height="39.1" fill="#458AFC"/>
<rect x="815.1" y="533.5" width="52.3" height="39.1" fill="#4391FE"/>
<rect x="866.8" y="533.5" width="52.4" height="39.1" fill="#38A5FB"/>
<rect x="918.6" y="533.5" width="50.6" height="39.1" fill="#458AFC"/>
<rect x="968.6" y="533.5" width="52.3" height="39.1" fill="#4391FE"/>
<rect x="1020.3" y="533.5" width="52.4" height="39.1" fill="#467DF4"/>
<rect x="1072.1" y="533.5" width="50.6" height="39.1" fill="#458AFC"/>
<rect x="1122.1" y="533.5" width="52.3" height="39.1" fill="#458AFC"/>
<rect x="1173.8" y="533.5" width="52.4" height="39.1" fill="#2AB9EE"/>
<rect x="1225.6" y="533.5" width="50.6" height="39.1" fill="#3E9BFE"/>
<rect x="1275.6" y="533.5" width="52.3" height="39.1" fill="#19D5CD"/>
<rect x="1327.3" y="533.5" width="52.4" height="39.1" fill="#3E9BFE"/>
<rect x="1379.0" y="533.5" width="50.6" height="39.1" fill="#4391FE"/>
<rect x="1429.0" y="533.5" width="52.3" height="39.1" fill="#4682F8"/>
<rect x="1480.7" y="533.5" width="52.4" height="39.1" fill="#3E9BFE"/>
<rect x="1532.5" y="533.5" width="50.6" height="39.1" fill="#2AB9EE"/>
<rect x="1582.5" y="533.5" width="52.3" height="39.1" fill="#458AFC"/>
<rect x="1634.2" y="533.5" width="52.4" height="39.1" fill="#19D5CD"/>
<rect x="1686.0" y="533.5" width="50.6" height="39.1" fill="#33ADF7"/>
<rect x="1736.0" y="533.5" width="52.3" height="39.1" fill="#33ADF7"/>
<rect x="1787.7" y="533.5" width="52.4" height="39.1" fill="#477BF2"/>
<rect x="1839.5" y="533.5" width="50.6" height="39.1" fill="#458AFC"/>
<rect x="1889.5" y="533.5" width="52.3" height="39.1" fill="#458AFC"/>
<rect x="1941.2" y="533.5" width="50.4" height="39.1" fill="#458AFC"/>
<rect x="1991.0" y="533.5" width="52.0" height="39.1" fill="#3E9BFE"/>
<rect x="151.2" y="572.0" width="50.6" height="39.1" fill="#3E9BFE"/>
<rect x="201.2" y="572.0" width="52.3" height="39.1" fill="#2AEFA1"/>
<rect x="252.9" y="572.0" width="52.4" height="39.1" fill="#33ADF7"/>
<rect x="304.7" y="572.0" width="50.6" height="39.1" fill="#46F884"/>
<rect x="354.7" y="572.0" width="52.3" height="39.1" fill="#38A5FB"/>
<rect x="406.4" y="572.0" width="52.4" height="39.1" fill="#458AFC"/>
<rect x="458.2" y="572.0" width="50.6" height="39.1" fill="#33ADF7"/>
<rect x="508.2" y="572.0" width="52.3" height="39.1" fill="#33ADF7"/>
<rect x="559.9" y="572.0" width="52.4" height="39.1" fill="#33ADF7"/>
<rect x="611.6" y="572.0" width="50.6" height="39.1" fill="#38A5FB"/>
<rect x="661.6" y="572.0" width="52.3" height="39.1" fill="#3E9BFE"/>
<rect x="713.3" y="572.0" width="52.4" height="39.1" fill="#3E9BFE"/>
<rect x="765.1" y="572.0" width="50.6" height="39.1" fill="#458AFC"/>
<rect x="815.1" y="572.0" width="52.3" height="39.1" fill="#3E9BFE"/>
<rect x="866.8" y="572.0" width="52.4" height="39.1" fill="#3E9BFE"/>
<rect x="918.6" y="572.0" width="50.6" height="39.1" fill="#458AFC"/>
<rect x="968.6" y="572.0" width="52.3" height="39.1" fill="#3E9BFE"/>
<rect x="1020.3" y="572.0" width="52.4" height="39.1" fill="#458AFC"/>
<rect x="1072.1" y="572.0" width="50.6" height="39.1" fill="#458AFC"/>
<rect x="1122.1" y="572.0" width="52.3" height="39.1" fill="#458AFC"/>
<rect x="1173.8" y="572.0" width="52.4" height="39.1" fill="#23C3E4"/>
<rect x="1225.6" y="572.0" width="50.6" height="39.1" fill="#3E9BFE"/>
<rect x="1275.6" y="572.0" width="52.3" height="39.1" fill="#1AD2D2"/>
<rect x="1327.3" y="572.0" width="52.4" height="39.1" fill="#477BF2"/>
<rect x="1379.0" y="572.0" width="50.6" height="39.1" fill="#3E9BFE"/>
<rect x="1429.0" y="572.0" width="52.3" height="39.1" fill="#4682F8"/>
<rect x="1480.7" y="572.0" width="52.4" height="39.1" fill="#3E9BFE"/>
<rect x="1532.5" y="572.0" width="50.6" height="39.1" fill="#23C3E4"/>
<rect x="1582.5" y="572.0" width="52.3" height="39.1" fill="#3E9BFE"/>
<rect x="1634.2" y="572.0" width="52.4" height="39.1" fill="#33ADF7"/>
<rect x="1686.0" y="572.0" width="50.6" height="39.1" fill="#2AB9EE"/>
<rect x="1736.0" y="572.0" width="52.3" height="39.1" fill="#33ADF7"/>
<rect x="1787.7" y="572.0" width="52.4" height="39.1" fill="#458AFC"/>
<rect x="1839.5" y="572.0" width="50.6" height="39.1" fill="#4391FE"/>
<rect x="1889.5" y="572.0" width="52.3" height="39.1" fill="#4391FE"/>
<rect x="1941.2" y="572.0" width="50.4" height="39.1" fill="#4682F8"/>
<rect x="1991.0" y="572.0" width="52.0" height="39.1" fill="#4391FE"/>
<rect x="151.2" y="610.5" width="50.6" height="39.1" fill="#4682F8"/>
<rect x="201.2" y="610.5" width="52.3" height="39.1" fill="#AFFA37"/>
<rect x="252.9" y="610.5" width="52.4" height="39.1" fill="#458AFC"/>
<rect x="304.7" y="610.5" width="50.6" height="39.1" fill="#38A5FB"/>
<rect x="354.7" y="610.5" width="52.3" height="39.1" fill="#4391FE"/>
<rect x="406.4" y="610.5" width="52.4" height="39.1" fill="#38A5FB"/>
<rect x="458.2" y="610.5" width="50.6" height="39.1" fill="#38A5FB"/>
<rect x="508.2" y="610.5" width="52.3" height="39.1" fill="#33ADF7"/>
<rect x="559.9" y="610.5" width="52.4" height="39.1" fill="#2AB9EE"/>
<rect x="611.6" y="610.5" width="50.6" height="39.1" fill="#33ADF7"/>
<rect x="661.6" y="610.5" width="52.3" height="39.1" fill="#33ADF7"/>
<rect x="713.3" y="610.5" width="52.4" height="39.1" fill="#458AFC"/>
<rect x="765.1" y="610.5" width="50.6" height="39.1" fill="#458AFC"/>
<rect x="815.1" y="610.5" width="52.3" height="39.1" fill="#2AEFA1"/>
<rect x="866.8" y="610.5" width="52.4" height="39.1" fill="#33ADF7"/>
<rect x="918.6" y="610.5" width="50.6" height="39.1" fill="#3E9BFE"/>
<rect x="968.6" y="610.5" width="52.3" height="39.1" fill="#4391FE"/>
<rect x="1020.3" y="610.5" width="52.4" height="39.1" fill="#3E9BFE"/>
<rect x="1072.1" y="610.5" width="50.6" height="39.1" fill="#3E9BFE"/>
<rect x="1122.1" y="610.5" width="52.3" height="39.1" fill="#4391FE"/>
<rect x="1173.8" y="610.5" width="52.4" height="39.1" fill="#1ECBDA"/>
<rect x="1225.6" y="610.5" width="50.6" height="39.1" fill="#3E9BFE"/>
<rect x="1275.6" y="610.5" width="52.3" height="39.1" fill="#19E3B9"/>
<rect x="1327.3" y="610.5" width="52.4" height="39.1" fill="#477BF2"/>
<rect x="1379.0" y="610.5" width="50.6" height="39.1" fill="#458AFC"/>
<rect x="1429.0" y="610.5" width="52.3" height="39.1" fill="#458AFC"/>
<rect x="1480.7" y="610.5" width="52.4" height="39.1" fill="#4391FE"/>
<rect x="1532.5" y="610.5" width="50.6" height="39.1" fill="#19D5CD"/>
<rect x="1582.5" y="610.5" width="52.3" height="39.1" fill="#458AFC"/>
<rect x="1634.2" y="610.5" width="52.4" height="39.1" fill="#38A5FB"/>
<rect x="1686.0" y="610.5" width="50.6" height="39.1" fill="#38A5FB"/>
<rect x="1736.0" y="610.5" width="52.3" height="39.1" fill="#467DF4"/>
<rect x="1787.7" y="610.5" width="52.4" height="39.1" fill="#467DF4"/>
<rect x="1839.5" y="610.5" width="50.6" height="39.1" fill="#458AFC"/>
<rect x="1889.5" y="610.5" width="52.3" height="39.1" fill="#3E9BFE"/>
<rect x="1941.2" y="610.5" width="50.4" height="39.1" fill="#458AFC"/>
<rect x="1991.0" y="610.5" width="52.0" height="39.1" fill="#458AFC"/>
<rect x="151.2" y="649.1" width="50.6" height="39.1" fill="#38A5FB"/>
<rect x="201.2" y="649.1" width="52.3" height="39.1" fill="#38A5FB"/>
<rect x="252.9" y="649.1" width="52.4" height="39.1" fill="#3E9BFE"/>
<rect x="304.7" y="649.1" width="50.6" height="39.1" fill="#3E9BFE"/>
<rect x="354.7" y="649.1" width="52.3" height="39.1" fill="#3E9BFE"/>
<rect x="406.4" y="649.1" width="52.4" height="39.1" fill="#3E9BFE"/>
<rect x="458.2" y="649.1" width="50.6" height="39.1" fill="#3E9BFE"/>
<rect x="508.2" y="649.1" width="52.3" height="39.1" fill="#2AB9EE"/>
<rect x="559.9" y="649.1" width="52.4" height="39.1" fill="#3E9BFE"/>
<rect x="611.6" y="649.1" width="50.6" height="39.1" fill="#2AB9EE"/>
<rect x="661.6" y="649.1" width="52.3" height="39.1" fill="#33ADF7"/>
<rect x="713.3" y="649.1" width="52.4" height="39.1" fill="#38A5FB"/>
<rect x="765.1" y="649.1" width="50.6" height="39.1" fill="#3E9BFE"/>
<rect x="815.1" y="649.1" width="52.3" height="39.1" fill="#3E9BFE"/>
<rect x="866.8" y="649.1" width="52.4" height="39.1" fill="#23C3E4"/>
<rect x="918.6" y="649.1" width="50.6" height="39.1" fill="#3E9BFE"/>
<rect x="968.6" y="649.1" width="52.3" height="39.1" fill="#3E9BFE"/>
<rect x="1020.3" y="649.1" width="52.4" height="39.1" fill="#4391FE"/>
<rect x="1072.1" y="649.1" width="50.6" height="39.1" fill="#4391FE"/>
<rect x="1122.1" y="649.1" width="52.3" height="39.1" fill="#4391FE"/>
<rect x="1173.8" y="649.1" width="52.4" height="39.1" fill="#2AB9EE"/>
<rect x="1225.6" y="649.1" width="50.6" height="39.1" fill="#458AFC"/>
<rect x="1275.6" y="649.1" width="52.3" height="39.1" fill="#1ECBDA"/>
<rect x="1327.3" y="649.1" width="52.4" height="39.1" fill="#458AFC"/>
<rect x="1379.0" y="649.1" width="50.6" height="39.1" fill="#458AFC"/>
<rect x="1429.0" y="649.1" width="52.3" height="39.1" fill="#458AFC"/>
<rect x="1480.7" y="649.1" width="52.4" height="39.1" fill="#3E9BFE"/>
<rect x="1532.5" y="649.1" width="50.6" height="39.1" fill="#3E9BFE"/>
<rect x="1582.5" y="649.1" width="52.3" height="39.1" fill="#3E9BFE"/>
<rect x="1634.2" y="649.1" width="52.4" height="39.1" fill="#4391FE"/>
<rect x="1686.0" y="649.1" width="50.6" height="39.1" fill="#33ADF7"/>
<rect x="1736.0" y="649.1" width="52.3" height="39.1" fill="#458AFC"/>
<rect x="1787.7" y="649.1" width="52.4" height="39.1" fill="#467DF4"/>
<rect x="1839.5" y="649.1" width="50.6" height="39.1" fill="#4391FE"/>
<rect x="1889.5" y="649.1" width="52.3" height="39.1" fill="#3E9BFE"/>
<rect x="1941.2" y="649.1" width="50.4" height="39.1" fill="#4391FE"/>
<rect x="1991.0" y="649.1" width="52.0" height="39.1" fill="#458AFC"/>
<rect x="151.2" y="687.6" width="50.6" height="39.1" fill="#4391FE"/>
<rect x="201.2" y="687.6" width="52.3" height="39.1" fill="#38A5FB"/>
<rect x="252.9" y="687.6" width="52.4" height="39.1" fill="#3E9BFE"/>
<rect x="304.7" y="687.6" width="50.6" height="39.1" fill="#38A5FB"/>
<rect x="354.7" y="687.6" width="52.3" height="39.1" fill="#18DBC5"/>
<rect x="406.4" y="687.6" width="52.4" height="39.1" fill="#3E9BFE"/>
<rect x="458.2" y="687.6" width="50.6" height="39.1" fill="#3E9BFE"/>
<rect x="508.2" y="687.6" width="52.3" height="39.1" fill="#4391FE"/>
<rect x="559.9" y="687.6" width="52.4" height="39.1" fill="#3E9BFE"/>
<rect x="611.6" y="687.6" width="50.6" height="39.1" fill="#4391FE"/>
<rect x="661.6" y="687.6" width="52.3" height="39.1" fill="#2AB9EE"/>
<rect x="713.3" y="687.6" width="52.4" height="39.1" fill="#92FF47"/>
<rect x="765.1" y="687.6" width="50.6" height="39.1" fill="#3E9BFE"/>
<rect x="815.1" y="687.6" width="52.3" height="39.1" fill="#38A5FB"/>
<rect x="866.8" y="687.6" width="52.4" height="39.1" fill="#33ADF7"/>
<rect x="918.6" y="687.6" width="50.6" height="39.1" fill="#3E9BFE"/>
<rect x="968.6" y="687.6" width="52.3" height="39.1" fill="#2AB9EE"/>
<rect x="1020.3" y="687.6" width="52.4" height="39.1" fill="#3E9BFE"/>
<rect x="1072.1" y="687.6" width="50.6" height="39.1" fill="#33ADF7"/>
<rect x="1122.1" y="687.6" width="52.3" height="39.1" fill="#4391FE"/>
<rect x="1173.8" y="687.6" width="52.4" height="39.1" fill="#2AB9EE"/>
<rect x="1225.6" y="687.6" width="50.6" height="39.1" fill="#3E9BFE"/>
<rect x="1275.6" y="687.6" width="52.3" height="39.1" fill="#38A5FB"/>
<rect x="1327.3" y="687.6" width="52.4" height="39.1" fill="#4682F8"/>
<rect x="1379.0" y="687.6" width="50.6" height="39.1" fill="#1AD2D2"/>
<rect x="1429.0" y="687.6" width="52.3" height="39.1" fill="#4391FE"/>
<rect x="1480.7" y="687.6" width="52.4" height="39.1" fill="#4391FE"/>
<rect x="1532.5" y="687.6" width="50.6" height="39.1" fill="#4391FE"/>
<rect x="1582.5" y="687.6" width="52.3" height="39.1" fill="#4391FE"/>
<rect x="1634.2" y="687.6" width="52.4" height="39.1" fill="#4391FE"/>
<rect x="1686.0" y="687.6" width="50.6" height="39.1" fill="#3E9BFE"/>
<rect x="1736.0" y="687.6" width="52.3" height="39.1" fill="#4391FE"/>
<rect x="1787.7" y="687.6" width="52.4" height="39.1" fill="#33ADF7"/>
<rect x="1839.5" y="687.6" width="50.6" height="39.1" fill="#20EAAC"/>
<rect x="1889.5" y="687.6" width="52.3" height="39.1" fill="#458AFC"/>
<rect x="1941.2" y="687.6" width="50.4" height="39.1" fill="#3E9BFE"/>
<rect x="1991.0" y="687.6" width="52.0" height="39.1" fill="#2AB9EE"/>
<rect x="151.2" y="726.1" width="50.6" height="39.1" fill="#4682F8"/>
<rect x="201.2" y="726.1" width="52.3" height="39.1" fill="#3E9BFE"/>
<rect x="252.9" y="726.1" width="52.4" height="39.1" fill="#33ADF7"/>
<rect x="304.7" y="726.1" width="50.6" height="39.1" fill="#33ADF7"/>
<rect x="354.7" y="726.1" width="52.3" height="39.1" fill="#33ADF7"/>
<rect x="406.4" y="726.1" width="52.4" height="39.1" fill="#38A5FB"/>
<rect x="458.2" y="726.1" width="50.6" height="39.1" fill="#4391FE"/>
<rect x="508.2" y="726.1" width="52.3" height="39.1" fill="#2AB9EE"/>
<rect x="559.9" y="726.1" width="52.4" height="39.1" fill="#458AFC"/>
<rect x="611.6" y="726.1" width="50.6" height="39.1" fill="#3E9BFE"/>
<rect x="661.6" y="726.1" width="52.3" height="39.1" fill="#38A5FB"/>
<rect x="713.3" y="726.1" width="52.4" height="39.1" fill="#33ADF7"/>
<rect x="765.1" y="726.1" width="50.6" height="39.1" fill="#3E9BFE"/>
<rect x="815.1" y="726.1" width="52.3" height="39.1" fill="#2AB9EE"/>
<rect x="866.8" y="726.1" width="52.4" height="39.1" fill="#33ADF7"/>
<rect x="918.6" y="726.1" width="50.6" height="39.1" fill="#458AFC"/>
<rect x="968.6" y="726.1" width="52.3" height="39.1" fill="#2AB9EE"/>
<rect x="1020.3" y="726.1" width="52.4" height="39.1" fill="#3E9BFE"/>
<rect x="1072.1" y="726.1" width="50.6" height="39.1" fill="#458AFC"/>
<rect x="1122.1" y="726.1" width="52.3" height="39.1" fill="#4682F8"/>
<rect x="1173.8" y="726.1" width="52.4" height="39.1" fill="#3E9BFE"/>
<rect x="1225.6" y="726.1" width="50.6" height="39.1" fill="#458AFC"/>
<rect x="1275.6" y="726.1" width="52.3" height="39.1" fill="#458AFC"/>
<rect x="1327.3" y="726.1" width="52.4" height="39.1" fill="#4391FE"/>
<rect x="1379.0" y="726.1" width="50.6" height="39.1" fill="#458AFC"/>
<rect x="1429.0" y="726.1" width="52.3" height="39.1" fill="#4682F8"/>
<rect x="1480.7" y="726.1" width="52.4" height="39.1" fill="#23C3E4"/>
<rect x="1532.5" y="726.1" width="50.6" height="39.1" fill="#458AFC"/>
<rect x="1582.5" y="726.1" width="52.3" height="39.1" fill="#4391FE"/>
<rect x="1634.2" y="726.1" width="52.4" height="39.1" fill="#1ECBDA"/>
<rect x="1686.0" y="726.1" width="50.6" height="39.1" fill="#38A5FB"/>
<rect x="1736.0" y="726.1" width="52.3" height="39.1" fill="#3E9BFE"/>
<rect x="1787.7" y="726.1" width="52.4" height="39.1" fill="#3E9BFE"/>
<rect x="1839.5" y="726.1" width="50.6" height="39.1" fill="#20EAAC"/>
<rect x="1889.5" y="726.1" width="52.3" height="39.1" fill="#3E9BFE"/>
<rect x="1941.2" y="726.1" width="50.4" height="39.1" fill="#458AFC"/>
<rect x="1991.0" y="726.1" width="52.0" height="39.1" fill="#4391FE"/>
<rect x="151.2" y="764.6" width="50.6" height="39.1" fill="#3E9BFE"/>
<rect x="201.2" y="764.6" width="52.3" height="39.1" fill="#2AB9EE"/>
<rect x="252.9" y="764.6" width="52.4" height="39.1" fill="#38A5FB"/>
<rect x="304.7" y="764.6" width="50.6" height="39.1" fill="#2AB9EE"/>
<rect x="354.7" y="764.6" width="52.3" height="39.1" fill="#33ADF7"/>
<rect x="406.4" y="764.6" width="52.4" height="39.1" fill="#3E9BFE"/>
<rect x="458.2" y="764.6" width="50.6" height="39.1" fill="#38A5FB"/>
<rect x="508.2" y="764.6" width="52.3" height="39.1" fill="#38A5FB"/>
<rect x="559.9" y="764.6" width="52.4" height="39.1" fill="#3E9BFE"/>
<rect x="611.6" y="764.6" width="50.6" height="39.1" fill="#33ADF7"/>
<rect x="661.6" y="764.6" width="52.3" height="39.1" fill="#458AFC"/>
<rect x="713.3" y="764.6" width="52.4" height="39.1" fill="#33ADF7"/>
<rect x="765.1" y="764.6" width="50.6" height="39.1" fill="#38A5FB"/>
<rect x="815.1" y="764.6" width="52.3" height="39.1" fill="#33ADF7"/>
<rect x="866.8" y="764.6" width="52.4" height="39.1" fill="#33ADF7"/>
<rect x="918.6" y="764.6" width="50.6" height="39.1" fill="#33ADF7"/>
<rect x="968.6" y="764.6" width="52.3" height="39.1" fill="#458AFC"/>
<rect x="1020.3" y="764.6" width="52.4" height="39.1" fill="#458AFC"/>
<rect x="1072.1" y="764.6" width="50.6" height="39.1" fill="#3E9BFE"/>
<rect x="1122.1" y="764.6" width="52.3" height="39.1" fill="#3E9BFE"/>
<rect x="1173.8" y="764.6" width="52.4" height="39.1" fill="#458AFC"/>
<rect x="1225.6" y="764.6" width="50.6" height="39.1" fill="#458AFC"/>
<rect x="1275.6" y="764.6" width="52.3" height="39.1" fill="#477BF2"/>
<rect x="1327.3" y="764.6" width="52.4" height="39.1" fill="#4682F8"/>
<rect x="1379.0" y="764.6" width="50.6" height="39.1" fill="#458AFC"/>
<rect x="1429.0" y="764.6" width="52.3" height="39.1" fill="#467DF4"/>
<rect x="1480.7" y="764.6" width="52.4" height="39.1" fill="#4391FE"/>
<rect x="1532.5" y="764.6" width="50.6" height="39.1" fill="#4391FE"/>
<rect x="1582.5" y="764.6" width="52.3" height="39.1" fill="#19E3B9"/>
<rect x="1634.2" y="764.6" width="52.4" height="39.1" fill="#38A5FB"/>
<rect x="1686.0" y="764.6" width="50.6" height="39.1" fill="#33ADF7"/>
<rect x="1736.0" y="764.6" width="52.3" height="39.1" fill="#3E9BFE"/>
<rect x="1787.7" y="764.6" width="52.4" height="39.1" fill="#18DBC5"/>
<rect x="1839.5" y="764.6" width="50.6" height="39.1" fill="#458AFC"/>
<rect x="1889.5" y="764.6" width="52.3" height="39.1" fill="#3E9BFE"/>
<rect x="1941.2" y="764.6" width="50.4" height="39.1" fill="#4682F8"/>
<rect x="1991.0" y="764.6" width="52.0" height="39.1" fill="#33ADF7"/>
<rect x="151.2" y="803.2" width="50.6" height="39.1" fill="#33ADF7"/>
<rect x="201.2" y="803.2" width="52.3" height="39.1" fill="#23C3E4"/>
<rect x="252.9" y="803.2" width="52.4" height="39.1" fill="#23C3E4"/>
<rect x="304.7" y="803.2" width="50.6" height="39.1" fill="#23C3E4"/>
<rect x="354.7" y="803.2" width="52.3" height="39.1" fill="#23C3E4"/>
<rect x="406.4" y="803.2" width="52.4" height="39.1" fill="#2AB9EE"/>
<rect x="458.2" y="803.2" width="50.6" height="39.1" fill="#23C3E4"/>
<rect x="508.2" y="803.2" width="52.3" height="39.1" fill="#23C3E4"/>
<rect x="559.9" y="803.2" width="52.4" height="39.1" fill="#23C3E4"/>
<rect x="611.6" y="803.2" width="50.6" height="39.1" fill="#1AD2D2"/>
<rect x="661.6" y="803.2" width="52.3" height="39.1" fill="#19D5CD"/>
<rect x="713.3" y="803.2" width="52.4" height="39.1" fill="#33ADF7"/>
<rect x="765.1" y="803.2" width="50.6" height="39.1" fill="#2AB9EE"/>
<rect x="815.1" y="803.2" width="52.3" height="39.1" fill="#33ADF7"/>
<rect x="866.8" y="803.2" width="52.4" height="39.1" fill="#3E9BFE"/>
<rect x="918.6" y="803.2" width="50.6" height="39.1" fill="#458AFC"/>
<rect x="968.6" y="803.2" width="52.3" height="39.1" fill="#38A5FB"/>
<rect x="1020.3" y="803.2" width="52.4" height="39.1" fill="#4391FE"/>
<rect x="1072.1" y="803.2" width="50.6" height="39.1" fill="#3E9BFE"/>
<rect x="1122.1" y="803.2" width="52.3" height="39.1" fill="#3E9BFE"/>
<rect x="1173.8" y="803.2" width="52.4" height="39.1" fill="#23C3E4"/>
<rect x="1225.6" y="803.2" width="50.6" height="39.1" fill="#4391FE"/>
<rect x="1275.6" y="803.2" width="52.3" height="39.1" fill="#458AFC"/>
<rect x="1327.3" y="803.2" width="52.4" height="39.1" fill="#23C3E4"/>
<rect x="1379.0" y="803.2" width="50.6" height="39.1" fill="#75FE5C"/>
<rect x="1429.0" y="803.2" width="52.3" height="39.1" fill="#33ADF7"/>
<rect x="1480.7" y="803.2" width="52.4" height="39.1" fill="#4391FE"/>
<rect x="1532.5" y="803.2" width="50.6" height="39.1" fill="#3E9BFE"/>
<rect x="1582.5" y="803.2" width="52.3" height="39.1" fill="#33ADF7"/>
<rect x="1634.2" y="803.2" width="52.4" height="39.1" fill="#23C3E4"/>
<rect x="1686.0" y="803.2" width="50.6" height="39.1" fill="#33ADF7"/>
<rect x="1736.0" y="803.2" width="52.3" height="39.1" fill="#38A5FB"/>
<rect x="1787.7" y="803.2" width="52.4" height="39.1" fill="#38A5FB"/>
<rect x="1839.5" y="803.2" width="50.6" height="39.1" fill="#458AFC"/>
<rect x="1889.5" y="803.2" width="52.3" height="39.1" fill="#33ADF7"/>
<rect x="1941.2" y="803.2" width="50.4" height="39.1" fill="#3E9BFE"/>
<rect x="1991.0" y="803.2" width="52.0" height="39.1" fill="#33ADF7"/>
<rect x="151.2" y="841.7" width="50.6" height="39.1" fill="#2AB9EE"/>
<rect x="201.2" y="841.7" width="52.3" height="39.1" fill="#19D5CD"/>
<rect x="252.9" y="841.7" width="52.4" height="39.1" fill="#19D5CD"/>
<rect x="304.7" y="841.7" width="50.6" height="39.1" fill="#1ECBDA"/>
<rect x="354.7" y="841.7" width="52.3" height="39.1" fill="#23C3E4"/>
<rect x="406.4" y="841.7" width="52.4" height="39.1" fill="#23C3E4"/>
<rect x="458.2" y="841.7" width="50.6" height="39.1" fill="#23C3E4"/>
<rect x="508.2" y="841.7" width="52.3" height="39.1" fill="#23C3E4"/>
<rect x="559.9" y="841.7" width="52.4" height="39.1" fill="#2AB9EE"/>
<rect x="611.6" y="841.7" width="50.6" height="39.1" fill="#2AB9EE"/>
<rect x="661.6" y="841.7" width="52.3" height="39.1" fill="#1ECBDA"/>
<rect x="713.3" y="841.7" width="52.4" height="39.1" fill="#33ADF7"/>
<rect x="765.1" y="841.7" width="50.6" height="39.1" fill="#38A5FB"/>
<rect x="815.1" y="841.7" width="52.3" height="39.1" fill="#33ADF7"/>
<rect x="866.8" y="841.7" width="52.4" height="39.1" fill="#3E9BFE"/>
<rect x="918.6" y="841.7" width="50.6" height="39.1" fill="#458AFC"/>
<rect x="968.6" y="841.7" width="52.3" height="39.1" fill="#33ADF7"/>
<rect x="1020.3" y="841.7" width="52.4" height="39.1" fill="#23C3E4"/>
<rect x="1072.1" y="841.7" width="50.6" height="39.1" fill="#3E9BFE"/>
<rect x="1122.1" y="841.7" width="52.3" height="39.1" fill="#19D5CD"/>
<rect x="1173.8" y="841.7" width="52.4" height="39.1" fill="#23C3E4"/>
<rect x="1225.6" y="841.7" width="50.6" height="39.1" fill="#3E9BFE"/>
<rect x="1275.6" y="841.7" width="52.3" height="39.1" fill="#458AFC"/>
<rect x="1327.3" y="841.7" width="52.4" height="39.1" fill="#2AB9EE"/>
<rect x="1379.0" y="841.7" width="50.6" height="39.1" fill="#19D5CD"/>
<rect x="1429.0" y="841.7" width="52.3" height="39.1" fill="#2AB9EE"/>
<rect x="1480.7" y="841.7" width="52.4" height="39.1" fill="#1ECBDA"/>
<rect x="1532.5" y="841.7" width="50.6" height="39.1" fill="#2AB9EE"/>
<rect x="1582.5" y="841.7" width="52.3" height="39.1" fill="#33ADF7"/>
<rect x="1634.2" y="841.7" width="52.4" height="39.1" fill="#2AB9EE"/>
<rect x="1686.0" y="841.7" width="50.6" height="39.1" fill="#2AB9EE"/>
<rect x="1736.0" y="841.7" width="52.3" height="39.1" fill="#2AB9EE"/>
<rect x="1787.7" y="841.7" width="52.4" height="39.1" fill="#1ECBDA"/>
<rect x="1839.5" y="841.7" width="50.6" height="39.1" fill="#2AB9EE"/>
<rect x="1889.5" y="841.7" width="52.3" height="39.1" fill="#2AB9EE"/>
<rect x="1941.2" y="841.7" width="50.4" height="39.1" fill="#2AB9EE"/>
<rect x="1991.0" y="841.7" width="52.0" height="39.1" fill="#19D5CD"/>
<rect x="151.2" y="880.2" width="50.6" height="39.1" fill="#38A5FB"/>
<rect x="201.2" y="880.2" width="52.3" height="39.1" fill="#33ADF7"/>
<rect x="252.9" y="880.2" width="52.4" height="39.1" fill="#23C3E4"/>
<rect x="304.7" y="880.2" width="50.6" height="39.1" fill="#33ADF7"/>
<rect x="354.7" y="880.2" width="52.3" height="39.1" fill="#33ADF7"/>
<rect x="406.4" y="880.2" width="52.4" height="39.1" fill="#19E3B9"/>
<rect x="458.2" y="880.2" width="50.6" height="39.1" fill="#33ADF7"/>
<rect x="508.2" y="880.2" width="52.3" height="39.1" fill="#33ADF7"/>
<rect x="559.9" y="880.2" width="52.4" height="39.1" fill="#2AEFA1"/>
<rect x="611.6" y="880.2" width="50.6" height="39.1" fill="#33ADF7"/>
<rect x="661.6" y="880.2" width="52.3" height="39.1" fill="#1ECBDA"/>
<rect x="713.3" y="880.2" width="52.4" height="39.1" fill="#3E9BFE"/>
<rect x="765.1" y="880.2" width="50.6" height="39.1" fill="#19E3B9"/>
<rect x="815.1" y="880.2" width="52.3" height="39.1" fill="#3E9BFE"/>
<rect x="866.8" y="880.2" width="52.4" height="39.1" fill="#3E9BFE"/>
<rect x="918.6" y="880.2" width="50.6" height="39.1" fill="#4391FE"/>
<rect x="968.6" y="880.2" width="52.3" height="39.1" fill="#3E9BFE"/>
<rect x="1020.3" y="880.2" width="52.4" height="39.1" fill="#3E9BFE"/>
<rect x="1072.1" y="880.2" width="50.6" height="39.1" fill="#3E9BFE"/>
<rect x="1122.1" y="880.2" width="52.3" height="39.1" fill="#2AB9EE"/>
<rect x="1173.8" y="880.2" width="52.4" height="39.1" fill="#1ECBDA"/>
<rect x="1225.6" y="880.2" width="50.6" height="39.1" fill="#4391FE"/>
<rect x="1275.6" y="880.2" width="52.3" height="39.1" fill="#458AFC"/>
<rect x="1327.3" y="880.2" width="52.4" height="39.1" fill="#2AB9EE"/>
<rect x="1379.0" y="880.2" width="50.6" height="39.1" fill="#33ADF7"/>
<rect x="1429.0" y="880.2" width="52.3" height="39.1" fill="#33ADF7"/>
<rect x="1480.7" y="880.2" width="52.4" height="39.1" fill="#38A5FB"/>
<rect x="1532.5" y="880.2" width="50.6" height="39.1" fill="#33ADF7"/>
<rect x="1582.5" y="880.2" width="52.3" height="39.1" fill="#18DBC5"/>
<rect x="1634.2" y="880.2" width="52.4" height="39.1" fill="#33ADF7"/>
<rect x="1686.0" y="880.2" width="50.6" height="39.1" fill="#4391FE"/>
<rect x="1736.0" y="880.2" width="52.3" height="39.1" fill="#3E9BFE"/>
<rect x="1787.7" y="880.2" width="52.4" height="39.1" fill="#3E9BFE"/>
<rect x="1839.5" y="880.2" width="50.6" height="39.1" fill="#33ADF7"/>
<rect x="1889.5" y="880.2" width="52.3" height="39.1" fill="#3E9BFE"/>
<rect x="1941.2" y="880.2" width="50.4" height="39.1" fill="#3E9BFE"/>
<rect x="1991.0" y="880.2" width="52.0" height="39.1" fill="#33ADF7"/>
<rect x="151.2" y="918.7" width="50.6" height="39.1" fill="#4391FE"/>
<rect x="201.2" y="918.7" width="52.3" height="39.1" fill="#38A5FB"/>
<rect x="252.9" y="918.7" width="52.4" height="39.1" fill="#33ADF7"/>
<rect x="304.7" y="918.7" width="50.6" height="39.1" fill="#33ADF7"/>
<rect x="354.7" y="918.7" width="52.3" height="39.1" fill="#33ADF7"/>
<rect x="406.4" y="918.7" width="52.4" height="39.1" fill="#3E9BFE"/>
<rect x="458.2" y="918.7" width="50.6" height="39.1" fill="#33ADF7"/>
<rect x="508.2" y="918.7" width="52.3" height="39.1" fill="#33ADF7"/>
<rect x="559.9" y="918.7" width="52.4" height="39.1" fill="#33ADF7"/>
<rect x="611.6" y="918.7" width="50.6" height="39.1" fill="#33ADF7"/>
<rect x="661.6" y="918.7" width="52.3" height="39.1" fill="#23C3E4"/>
<rect x="713.3" y="918.7" width="52.4" height="39.1" fill="#3E9BFE"/>
<rect x="765.1" y="918.7" width="50.6" height="39.1" fill="#3E9BFE"/>
<rect x="815.1" y="918.7" width="52.3" height="39.1" fill="#3E9BFE"/>
<rect x="866.8" y="918.7" width="52.4" height="39.1" fill="#3E9BFE"/>
<rect x="918.6" y="918.7" width="50.6" height="39.1" fill="#458AFC"/>
<rect x="968.6" y="918.7" width="52.3" height="39.1" fill="#38A5FB"/>
<rect x="1020.3" y="918.7" width="52.4" height="39.1" fill="#33ADF7"/>
<rect x="1072.1" y="918.7" width="50.6" height="39.1" fill="#3E9BFE"/>
<rect x="1122.1" y="918.7" width="52.3" height="39.1" fill="#2AB9EE"/>
<rect x="1173.8" y="918.7" width="52.4" height="39.1" fill="#33ADF7"/>
<rect x="1225.6" y="918.7" width="50.6" height="39.1" fill="#4391FE"/>
<rect x="1275.6" y="918.7" width="52.3" height="39.1" fill="#458AFC"/>
<rect x="1327.3" y="918.7" width="52.4" height="39.1" fill="#458AFC"/>
<rect x="1379.0" y="918.7" width="50.6" height="39.1" fill="#33ADF7"/>
<rect x="1429.0" y="918.7" width="52.3" height="39.1" fill="#3E9BFE"/>
<rect x="1480.7" y="918.7" width="52.4" height="39.1" fill="#38A5FB"/>
<rect x="1532.5" y="918.7" width="50.6" height="39.1" fill="#38A5FB"/>
<rect x="1582.5" y="918.7" width="52.3" height="39.1" fill="#33ADF7"/>
<rect x="1634.2" y="918.7" width="52.4" height="39.1" fill="#19D5CD"/>
<rect x="1686.0" y="918.7" width="50.6" height="39.1" fill="#3E9BFE"/>
<rect x="1736.0" y="918.7" width="52.3" height="39.1" fill="#3E9BFE"/>
<rect x="1787.7" y="918.7" width="52.4" height="39.1" fill="#19D5CD"/>
<rect x="1839.5" y="918.7" width="50.6" height="39.1" fill="#3E9BFE"/>
<rect x="1889.5" y="918.7" width="52.3" height="39.1" fill="#4391FE"/>
<rect x="1941.2" y="918.7" width="50.4" height="39.1" fill="#3E9BFE"/>
<rect x="1991.0" y="918.7" width="52.0" height="39.1" fill="#3E9BFE"/>
<rect x="151.2" y="957.2" width="50.6" height="39.1" fill="#33ADF7"/>
<rect x="201.2" y="957.2" width="52.3" height="39.1" fill="#33ADF7"/>
<rect x="252.9" y="957.2" width="52.4" height="39.1" fill="#33ADF7"/>
<rect x="304.7" y="957.2" width="50.6" height="39.1" fill="#33ADF7"/>
<rect x="354.7" y="957.2" width="52.3" height="39.1" fill="#33ADF7"/>
<rect x="406.4" y="957.2" width="52.4" height="39.1" fill="#3E9BFE"/>
<rect x="458.2" y="957.2" width="50.6" height="39.1" fill="#33ADF7"/>
<rect x="508.2" y="957.2" width="52.3" height="39.1" fill="#3E9BFE"/>
<rect x="559.9" y="957.2" width="52.4" height="39.1" fill="#33ADF7"/>
<rect x="611.6" y="957.2" width="50.6" height="39.1" fill="#1AD2D2"/>
<rect x="661.6" y="957.2" width="52.3" height="39.1" fill="#1ECBDA"/>
<rect x="713.3" y="957.2" width="52.4" height="39.1" fill="#3E9BFE"/>
<rect x="765.1" y="957.2" width="50.6" height="39.1" fill="#33ADF7"/>
<rect x="815.1" y="957.2" width="52.3" height="39.1" fill="#3E9BFE"/>
<rect x="866.8" y="957.2" width="52.4" height="39.1" fill="#38A5FB"/>
<rect x="918.6" y="957.2" width="50.6" height="39.1" fill="#3E9BFE"/>
<rect x="968.6" y="957.2" width="52.3" height="39.1" fill="#33ADF7"/>
<rect x="1020.3" y="957.2" width="52.4" height="39.1" fill="#2AB9EE"/>
<rect x="1072.1" y="957.2" width="50.6" height="39.1" fill="#4391FE"/>
<rect x="1122.1" y="957.2" width="52.3" height="39.1" fill="#38A5FB"/>
<rect x="1173.8" y="957.2" width="52.4" height="39.1" fill="#2AB9EE"/>
<rect x="1225.6" y="957.2" width="50.6" height="39.1" fill="#458AFC"/>
<rect x="1275.6" y="957.2" width="52.3" height="39.1" fill="#458AFC"/>
<rect x="1327.3" y="957.2" width="52.4" height="39.1" fill="#4391FE"/>
<rect x="1379.0" y="957.2" width="50.6" height="39.1" fill="#33ADF7"/>
<rect x="1429.0" y="957.2" width="52.3" height="39.1" fill="#3E9BFE"/>
<rect x="1480.7" y="957.2" width="52.4" height="39.1" fill="#1ECBDA"/>
<rect x="1532.5" y="957.2" width="50.6" height="39.1" fill="#33ADF7"/>
<rect x="1582.5" y="957.2" width="52.3" height="39.1" fill="#33ADF7"/>
<rect x="1634.2" y="957.2" width="52.4" height="39.1" fill="#2AEFA1"/>
<rect x="1686.0" y="957.2" width="50.6" height="39.1" fill="#38A5FB"/>
<rect x="1736.0" y="957.2" width="52.3" height="39.1" fill="#3E9BFE"/>
<rect x="1787.7" y="957.2" width="52.4" height="39.1" fill="#3E9BFE"/>
<rect x="1839.5" y="957.2" width="50.6" height="39.1" fill="#3E9BFE"/>
<rect x="1889.5" y="957.2" width="52.3" height="39.1" fill="#3E9BFE"/>
<rect x="1941.2" y="957.2" width="50.4" height="39.1" fill="#3E9BFE"/>
<rect x="1991.0" y="957.2" width="52.0" height="39.1" fill="#3E9BFE"/>
<rect x="151.2" y="995.8" width="50.6" height="39.1" fill="#3E9BFE"/>
<rect x="201.2" y="995.8" width="52.3" height="39.1" fill="#3E9BFE"/>
<rect x="252.9" y="995.8" width="52.4" height="39.1" fill="#33ADF7"/>
<rect x="304.7" y="995.8" width="50.6" height="39.1" fill="#38A5FB"/>
<rect x="354.7" y="995.8" width="52.3" height="39.1" fill="#38A5FB"/>
<rect x="406.4" y="995.8" width="52.4" height="39.1" fill="#38A5FB"/>
<rect x="458.2" y="995.8" width="50.6" height="39.1" fill="#2AB9EE"/>
<rect x="508.2" y="995.8" width="52.3" height="39.1" fill="#38A5FB"/>
<rect x="559.9" y="995.8" width="52.4" height="39.1" fill="#2AEFA1"/>
<rect x="611.6" y="995.8" width="50.6" height="39.1" fill="#19D5CD"/>
<rect x="661.6" y="995.8" width="52.3" height="39.1" fill="#2AB9EE"/>
<rect x="713.3" y="995.8" width="52.4" height="39.1" fill="#2AB9EE"/>
<rect x="765.1" y="995.8" width="50.6" height="39.1" fill="#33ADF7"/>
<rect x="815.1" y="995.8" width="52.3" height="39.1" fill="#3E9BFE"/>
<rect x="866.8" y="995.8" width="52.4" height="39.1" fill="#3E9BFE"/>
<rect x="918.6" y="995.8" width="50.6" height="39.1" fill="#458AFC"/>
<rect x="968.6" y="995.8" width="52.3" height="39.1" fill="#38A5FB"/>
<rect x="1020.3" y="995.8" width="52.4" height="39.1" fill="#1ECBDA"/>
<rect x="1072.1" y="995.8" width="50.6" height="39.1" fill="#3E9BFE"/>
<rect x="1122.1" y="995.8" width="52.3" height="39.1" fill="#33ADF7"/>
<rect x="1173.8" y="995.8" width="52.4" height="39.1" fill="#33ADF7"/>
<rect x="1225.6" y="995.8" width="50.6" height="39.1" fill="#3E9BFE"/>
<rect x="1275.6" y="995.8" width="52.3" height="39.1" fill="#458AFC"/>
<rect x="1327.3" y="995.8" width="52.4" height="39.1" fill="#33ADF7"/>
<rect x="1379.0" y="995.8" width="50.6" height="39.1" fill="#38A5FB"/>
<rect x="1429.0" y="995.8" width="52.3" height="39.1" fill="#33ADF7"/>
<rect x="1480.7" y="995.8" width="52.4" height="39.1" fill="#3E9BFE"/>
<rect x="1532.5" y="995.8" width="50.6" height="39.1" fill="#3E9BFE"/>
<rect x="1582.5" y="995.8" width="52.3" height="39.1" fill="#3E9BFE"/>
<rect x="1634.2" y="995.8" width="52.4" height="39.1" fill="#1ECBDA"/>
<rect x="1686.0" y="995.8" width="50.6" height="39.1" fill="#33ADF7"/>
<rect x="1736.0" y="995.8" width="52.3" height="39.1" fill="#4391FE"/>
<rect x="1787.7" y="995.8" width="52.4" height="39.1" fill="#3E9BFE"/>
<rect x="1839.5" y="995.8" width="50.6" height="39.1" fill="#3E9BFE"/>
<rect x="1889.5" y="995.8" width="52.3" height="39.1" fill="#3E9BFE"/>
<rect x="1941.2" y="995.8" width="50.4" height="39.1" fill="#3E9BFE"/>
<rect x="1991.0" y="995.8" width="52.0" height="39.1" fill="#3E9BFE"/>
<rect x="151.2" y="1034.3" width="50.6" height="38.5" fill="#3E9BFE"/>
<rect x="201.2" y="1034.3" width="52.3" height="38.5" fill="#33ADF7"/>
<rect x="252.9" y="1034.3" width="52.4" height="38.5" fill="#33ADF7"/>
<rect x="304.7" y="1034.3" width="50.6" height="38.5" fill="#3E9BFE"/>
<rect x="354.7" y="1034.3" width="52.3" height="38.5" fill="#33ADF7"/>
<rect x="406.4" y="1034.3" width="52.4" height="38.5" fill="#3E9BFE"/>
<rect x="458.2" y="1034.3" width="50.6" height="38.5" fill="#33ADF7"/>
<rect x="508.2" y="1034.3" width="52.3" height="38.5" fill="#38A5FB"/>
<rect x="559.9" y="1034.3" width="52.4" height="38.5" fill="#33ADF7"/>
<rect x="611.6" y="1034.3" width="50.6" height="38.5" fill="#23C3E4"/>
<rect x="661.6" y="1034.3" width="52.3" height="38.5" fill="#23C3E4"/>
<rect x="713.3" y="1034.3" width="52.4" height="38.5" fill="#18DBC5"/>
<rect x="765.1" y="1034.3" width="50.6" height="38.5" fill="#3E9BFE"/>
<rect x="815.1" y="1034.3" width="52.3" height="38.5" fill="#38A5FB"/>
<rect x="866.8" y="1034.3" width="52.4" height="38.5" fill="#3E9BFE"/>
<rect x="918.6" y="1034.3" width="50.6" height="38.5" fill="#4391FE"/>
<rect x="968.6" y="1034.3" width="52.3" height="38.5" fill="#33ADF7"/>
<rect x="1020.3" y="1034.3" width="52.4" height="38.5" fill="#4391FE"/>
<rect x="1072.1" y="1034.3" width="50.6" height="38.5" fill="#4391FE"/>
<rect x="1122.1" y="1034.3" width="52.3" height="38.5" fill="#33ADF7"/>
<rect x="1173.8" y="1034.3" width="52.4" height="38.5" fill="#33ADF7"/>
<rect x="1225.6" y="1034.3" width="50.6" height="38.5" fill="#3E9BFE"/>
<rect x="1275.6" y="1034.3" width="52.3" height="38.5" fill="#458AFC"/>
<rect x="1327.3" y="1034.3" width="52.4" height="38.5" fill="#3E9BFE"/>
<rect x="1379.0" y="1034.3" width="50.6" height="38.5" fill="#3E9BFE"/>
<rect x="1429.0" y="1034.3" width="52.3" height="38.5" fill="#33ADF7"/>
<rect x="1480.7" y="1034.3" width="52.4" height="38.5" fill="#3E9BFE"/>
<rect x="1532.5" y="1034.3" width="50.6" height="38.5" fill="#4391FE"/>
<rect x="1582.5" y="1034.3" width="52.3" height="38.5" fill="#3E9BFE"/>
<rect x="1634.2" y="1034.3" width="52.4" height="38.5" fill="#38A5FB"/>
<rect x="1686.0" y="1034.3" width="50.6" height="38.5" fill="#33ADF7"/>
<rect x="1736.0" y="1034.3" width="52.3" height="38.5" fill="#3E9BFE"/>
<rect x="1787.7" y="1034.3" width="52.4" height="38.5" fill="#3E9BFE"/>
<rect x="1839.5" y="1034.3" width="50.6" height="38.5" fill="#38A5FB"/>
<rect x="1889.5" y="1034.3" width="52.3" height="38.5" fill="#3E9BFE"/>
<rect x="1941.2" y="1034.3" width="50.4" height="38.5" fill="#3E9BFE"/>
<rect x="1991.0" y="1034.3" width="52.0" height="38.5" fill="#3E9BFE"/>
</g>
<path d="M146.5 100.9V1118.0H2047.8V100.9" fill="none" stroke="#000" stroke-width="2" stroke-linecap="square"/>
<line x1="145.5" y1="101.9" x2="2048.8" y2="101.9" stroke="#000" stroke-opacity="0.55" stroke-width="3.6"/>
<g font-size="38.4" text-anchor="end" class="t">
<text x="135.9" y="1087.45">0</text>
<text x="135.9" y="894.70">5</text>
<text x="135.9" y="701.95">10</text>
<text x="135.9" y="509.20">15</text>
<text x="135.9" y="316.45">20</text>
<text x="135.9" y="123.70">25</text>
</g>
<g font-size="38.4" text-anchor="middle" class="t">
<text transform="translate(167.00,1161.4) rotate(90) scale(0.978,1)">0</text>
<text transform="translate(218.17,1161.4) rotate(90) scale(0.978,1)">10</text>
<text transform="translate(269.34,1161.4) rotate(90) scale(0.978,1)">20</text>
<text transform="translate(320.51,1161.4) rotate(90) scale(0.978,1)">30</text>
<text transform="translate(371.68,1161.4) rotate(90) scale(0.978,1)">40</text>
<text transform="translate(422.85,1161.4) rotate(90) scale(0.978,1)">50</text>
<text transform="translate(474.02,1161.4) rotate(90) scale(0.978,1)">60</text>
<text transform="translate(525.19,1161.4) rotate(90) scale(0.978,1)">70</text>
<text transform="translate(576.36,1161.4) rotate(90) scale(0.978,1)">80</text>
<text transform="translate(627.53,1161.4) rotate(90) scale(0.978,1)">90</text>
<text transform="translate(678.70,1161.4) rotate(90) scale(0.978,1)">100</text>
<text transform="translate(729.87,1161.4) rotate(90) scale(0.978,1)">110</text>
<text transform="translate(781.04,1161.4) rotate(90) scale(0.978,1)">120</text>
<text transform="translate(832.21,1161.4) rotate(90) scale(0.978,1)">130</text>
<text transform="translate(883.38,1161.4) rotate(90) scale(0.978,1)">140</text>
<text transform="translate(934.55,1161.4) rotate(90) scale(0.978,1)">150</text>
<text transform="translate(985.72,1161.4) rotate(90) scale(0.978,1)">160</text>
<text transform="translate(1036.89,1161.4) rotate(90) scale(0.978,1)">170</text>
<text transform="translate(1088.06,1161.4) rotate(90) scale(0.978,1)">180</text>
<text transform="translate(1139.23,1161.4) rotate(90) scale(0.978,1)">190</text>
<text transform="translate(1190.40,1161.4) rotate(90) scale(0.978,1)">200</text>
<text transform="translate(1241.57,1161.4) rotate(90) scale(0.978,1)">210</text>
<text transform="translate(1292.74,1161.4) rotate(90) scale(0.978,1)">220</text>
<text transform="translate(1343.91,1161.4) rotate(90) scale(0.978,1)">230</text>
<text transform="translate(1395.08,1161.4) rotate(90) scale(0.978,1)">240</text>
<text transform="translate(1446.25,1161.4) rotate(90) scale(0.978,1)">250</text>
<text transform="translate(1497.42,1161.4) rotate(90) scale(0.978,1)">260</text>
<text transform="translate(1548.59,1161.4) rotate(90) scale(0.978,1)">270</text>
<text transform="translate(1599.76,1161.4) rotate(90) scale(0.978,1)">280</text>
<text transform="translate(1650.93,1161.4) rotate(90) scale(0.978,1)">290</text>
<text transform="translate(1702.10,1161.4) rotate(90) scale(0.978,1)">300</text>
<text transform="translate(1753.27,1161.4) rotate(90) scale(0.978,1)">310</text>
<text transform="translate(1804.44,1161.4) rotate(90) scale(0.978,1)">320</text>
<text transform="translate(1855.61,1161.4) rotate(90) scale(0.978,1)">330</text>
<text transform="translate(1906.78,1161.4) rotate(90) scale(0.978,1)">340</text>
<text transform="translate(1957.95,1161.4) rotate(90) scale(0.978,1)">350</text>
<text transform="translate(2009.12,1161.4) rotate(90) scale(0.978,1)">360</text>
</g>
<text font-size="48.4" class="h" text-anchor="middle" x="1097.5" y="1232">Day of the Year</text>
<text font-size="48.4" class="v" text-anchor="middle" transform="translate(76.6,610.4) rotate(-90)">Hour of Day (Local Solar Time)</text>
<text font-size="57.6" class="g" x="42" y="77.2">(b)</text>
<text font-size="38.4" class="h" x="2079" y="343.5">Standard Deviation (K)</text>
<rect x="2080" y="365.5" width="71" height="544" fill="url(#tb)"/>
<g stroke="#fff" stroke-width="2" stroke-opacity="0.4">
<line x1="2080" y1="728.1" x2="2087" y2="728.1"/><line x1="2144" y1="728.1" x2="2151" y2="728.1"/>
<line x1="2080" y1="546.7" x2="2087" y2="546.7"/><line x1="2144" y1="546.7" x2="2151" y2="546.7"/>
</g>
<g font-size="36.5" class="t">
<text x="2162" y="922.7">0</text>
<text x="2162" y="741.3">1</text>
<text x="2162" y="559.9">2</text>
<text x="2162" y="378.5">3</text>
</g>
</g>
</svg></body></html>
